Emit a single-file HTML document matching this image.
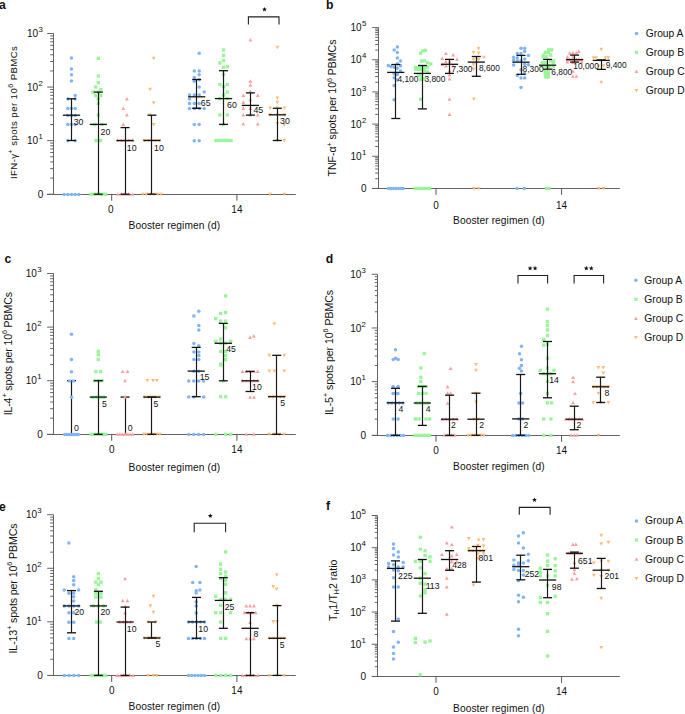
<!DOCTYPE html>
<html><head><meta charset="utf-8"><style>
html,body{margin:0;padding:0;background:#fff;}
svg{display:block;font-family:"Liberation Sans", sans-serif;}
text{fill:#111;}
</style></head><body>
<svg width="685" height="714" viewBox="0 0 685 714">
<text x="-0.90" y="8.60" font-size="12.2" text-anchor="start" font-weight="bold" >a</text>
<text x="326.00" y="8.50" font-size="12.2" text-anchor="start" font-weight="bold" >b</text>
<text x="4.40" y="262.80" font-size="12.2" text-anchor="start" font-weight="bold" >c</text>
<text x="325.80" y="262.70" font-size="12.2" text-anchor="start" font-weight="bold" >d</text>
<text x="-0.90" y="510.60" font-size="12.2" text-anchor="start" font-weight="bold" >e</text>
<text x="325.90" y="510.40" font-size="12.2" text-anchor="start" font-weight="bold" >f</text>
<line x1="53.50" y1="33.50" x2="53.50" y2="194.50" stroke="#636363" stroke-width="1.0"/>
<line x1="47.20" y1="194.20" x2="53.50" y2="194.20" stroke="#636363" stroke-width="1.0"/>
<line x1="50.20" y1="178.07" x2="53.50" y2="178.07" stroke="#636363" stroke-width="1.0"/>
<line x1="50.20" y1="168.64" x2="53.50" y2="168.64" stroke="#636363" stroke-width="1.0"/>
<line x1="50.20" y1="161.95" x2="53.50" y2="161.95" stroke="#636363" stroke-width="1.0"/>
<line x1="50.20" y1="156.76" x2="53.50" y2="156.76" stroke="#636363" stroke-width="1.0"/>
<line x1="50.20" y1="152.52" x2="53.50" y2="152.52" stroke="#636363" stroke-width="1.0"/>
<line x1="50.20" y1="148.93" x2="53.50" y2="148.93" stroke="#636363" stroke-width="1.0"/>
<line x1="50.20" y1="145.82" x2="53.50" y2="145.82" stroke="#636363" stroke-width="1.0"/>
<line x1="50.20" y1="143.08" x2="53.50" y2="143.08" stroke="#636363" stroke-width="1.0"/>
<line x1="47.20" y1="140.63" x2="53.50" y2="140.63" stroke="#636363" stroke-width="1.0"/>
<line x1="50.20" y1="124.51" x2="53.50" y2="124.51" stroke="#636363" stroke-width="1.0"/>
<line x1="50.20" y1="115.08" x2="53.50" y2="115.08" stroke="#636363" stroke-width="1.0"/>
<line x1="50.20" y1="108.38" x2="53.50" y2="108.38" stroke="#636363" stroke-width="1.0"/>
<line x1="50.20" y1="103.19" x2="53.50" y2="103.19" stroke="#636363" stroke-width="1.0"/>
<line x1="50.20" y1="98.95" x2="53.50" y2="98.95" stroke="#636363" stroke-width="1.0"/>
<line x1="50.20" y1="95.36" x2="53.50" y2="95.36" stroke="#636363" stroke-width="1.0"/>
<line x1="50.20" y1="92.26" x2="53.50" y2="92.26" stroke="#636363" stroke-width="1.0"/>
<line x1="50.20" y1="89.52" x2="53.50" y2="89.52" stroke="#636363" stroke-width="1.0"/>
<line x1="47.20" y1="87.07" x2="53.50" y2="87.07" stroke="#636363" stroke-width="1.0"/>
<line x1="50.20" y1="70.94" x2="53.50" y2="70.94" stroke="#636363" stroke-width="1.0"/>
<line x1="50.20" y1="61.51" x2="53.50" y2="61.51" stroke="#636363" stroke-width="1.0"/>
<line x1="50.20" y1="54.82" x2="53.50" y2="54.82" stroke="#636363" stroke-width="1.0"/>
<line x1="50.20" y1="49.63" x2="53.50" y2="49.63" stroke="#636363" stroke-width="1.0"/>
<line x1="50.20" y1="45.38" x2="53.50" y2="45.38" stroke="#636363" stroke-width="1.0"/>
<line x1="50.20" y1="41.80" x2="53.50" y2="41.80" stroke="#636363" stroke-width="1.0"/>
<line x1="50.20" y1="38.69" x2="53.50" y2="38.69" stroke="#636363" stroke-width="1.0"/>
<line x1="50.20" y1="35.95" x2="53.50" y2="35.95" stroke="#636363" stroke-width="1.0"/>
<line x1="47.20" y1="33.50" x2="53.50" y2="33.50" stroke="#636363" stroke-width="1.0"/>
<text x="38.20" y="144.23" font-size="10" text-anchor="end">10</text>
<text x="38.50" y="139.33" font-size="7.8">1</text>
<text x="38.20" y="90.67" font-size="10" text-anchor="end">10</text>
<text x="38.50" y="85.77" font-size="7.8">2</text>
<text x="38.20" y="37.10" font-size="10" text-anchor="end">10</text>
<text x="38.50" y="32.20" font-size="7.8">3</text>
<text x="43.30" y="197.80" font-size="10" text-anchor="end">0</text>
<line x1="47.20" y1="194.50" x2="295.80" y2="194.50" stroke="#636363" stroke-width="1.0"/>
<line x1="111.70" y1="194.50" x2="111.70" y2="200.70" stroke="#555" stroke-width="1.0"/>
<text x="110.70" y="213.20" font-size="10" text-anchor="middle" font-weight="normal" >0</text>
<line x1="236.90" y1="194.50" x2="236.90" y2="200.70" stroke="#555" stroke-width="1.0"/>
<text x="236.90" y="213.20" font-size="10" text-anchor="middle" font-weight="normal" >14</text>
<text x="174.30" y="228.90" font-size="10.2" text-anchor="middle" font-weight="normal" textLength="91.5" lengthAdjust="spacing">Booster regimen (d)</text>
<line x1="378.50" y1="27.60" x2="378.50" y2="188.50" stroke="#636363" stroke-width="1.0"/>
<line x1="372.20" y1="188.40" x2="378.50" y2="188.40" stroke="#636363" stroke-width="1.0"/>
<line x1="375.20" y1="178.72" x2="378.50" y2="178.72" stroke="#636363" stroke-width="1.0"/>
<line x1="375.20" y1="173.06" x2="378.50" y2="173.06" stroke="#636363" stroke-width="1.0"/>
<line x1="375.20" y1="169.04" x2="378.50" y2="169.04" stroke="#636363" stroke-width="1.0"/>
<line x1="375.20" y1="165.92" x2="378.50" y2="165.92" stroke="#636363" stroke-width="1.0"/>
<line x1="375.20" y1="163.37" x2="378.50" y2="163.37" stroke="#636363" stroke-width="1.0"/>
<line x1="375.20" y1="161.22" x2="378.50" y2="161.22" stroke="#636363" stroke-width="1.0"/>
<line x1="375.20" y1="159.36" x2="378.50" y2="159.36" stroke="#636363" stroke-width="1.0"/>
<line x1="375.20" y1="157.71" x2="378.50" y2="157.71" stroke="#636363" stroke-width="1.0"/>
<line x1="372.20" y1="156.24" x2="378.50" y2="156.24" stroke="#636363" stroke-width="1.0"/>
<line x1="375.20" y1="146.56" x2="378.50" y2="146.56" stroke="#636363" stroke-width="1.0"/>
<line x1="375.20" y1="140.90" x2="378.50" y2="140.90" stroke="#636363" stroke-width="1.0"/>
<line x1="375.20" y1="136.88" x2="378.50" y2="136.88" stroke="#636363" stroke-width="1.0"/>
<line x1="375.20" y1="133.76" x2="378.50" y2="133.76" stroke="#636363" stroke-width="1.0"/>
<line x1="375.20" y1="131.21" x2="378.50" y2="131.21" stroke="#636363" stroke-width="1.0"/>
<line x1="375.20" y1="129.06" x2="378.50" y2="129.06" stroke="#636363" stroke-width="1.0"/>
<line x1="375.20" y1="127.20" x2="378.50" y2="127.20" stroke="#636363" stroke-width="1.0"/>
<line x1="375.20" y1="125.55" x2="378.50" y2="125.55" stroke="#636363" stroke-width="1.0"/>
<line x1="372.20" y1="124.08" x2="378.50" y2="124.08" stroke="#636363" stroke-width="1.0"/>
<line x1="375.20" y1="114.40" x2="378.50" y2="114.40" stroke="#636363" stroke-width="1.0"/>
<line x1="375.20" y1="108.74" x2="378.50" y2="108.74" stroke="#636363" stroke-width="1.0"/>
<line x1="375.20" y1="104.72" x2="378.50" y2="104.72" stroke="#636363" stroke-width="1.0"/>
<line x1="375.20" y1="101.60" x2="378.50" y2="101.60" stroke="#636363" stroke-width="1.0"/>
<line x1="375.20" y1="99.05" x2="378.50" y2="99.05" stroke="#636363" stroke-width="1.0"/>
<line x1="375.20" y1="96.90" x2="378.50" y2="96.90" stroke="#636363" stroke-width="1.0"/>
<line x1="375.20" y1="95.04" x2="378.50" y2="95.04" stroke="#636363" stroke-width="1.0"/>
<line x1="375.20" y1="93.39" x2="378.50" y2="93.39" stroke="#636363" stroke-width="1.0"/>
<line x1="372.20" y1="91.92" x2="378.50" y2="91.92" stroke="#636363" stroke-width="1.0"/>
<line x1="375.20" y1="82.24" x2="378.50" y2="82.24" stroke="#636363" stroke-width="1.0"/>
<line x1="375.20" y1="76.58" x2="378.50" y2="76.58" stroke="#636363" stroke-width="1.0"/>
<line x1="375.20" y1="72.56" x2="378.50" y2="72.56" stroke="#636363" stroke-width="1.0"/>
<line x1="375.20" y1="69.44" x2="378.50" y2="69.44" stroke="#636363" stroke-width="1.0"/>
<line x1="375.20" y1="66.89" x2="378.50" y2="66.89" stroke="#636363" stroke-width="1.0"/>
<line x1="375.20" y1="64.74" x2="378.50" y2="64.74" stroke="#636363" stroke-width="1.0"/>
<line x1="375.20" y1="62.88" x2="378.50" y2="62.88" stroke="#636363" stroke-width="1.0"/>
<line x1="375.20" y1="61.23" x2="378.50" y2="61.23" stroke="#636363" stroke-width="1.0"/>
<line x1="372.20" y1="59.76" x2="378.50" y2="59.76" stroke="#636363" stroke-width="1.0"/>
<line x1="375.20" y1="50.08" x2="378.50" y2="50.08" stroke="#636363" stroke-width="1.0"/>
<line x1="375.20" y1="44.42" x2="378.50" y2="44.42" stroke="#636363" stroke-width="1.0"/>
<line x1="375.20" y1="40.40" x2="378.50" y2="40.40" stroke="#636363" stroke-width="1.0"/>
<line x1="375.20" y1="37.28" x2="378.50" y2="37.28" stroke="#636363" stroke-width="1.0"/>
<line x1="375.20" y1="34.73" x2="378.50" y2="34.73" stroke="#636363" stroke-width="1.0"/>
<line x1="375.20" y1="32.58" x2="378.50" y2="32.58" stroke="#636363" stroke-width="1.0"/>
<line x1="375.20" y1="30.72" x2="378.50" y2="30.72" stroke="#636363" stroke-width="1.0"/>
<line x1="375.20" y1="29.07" x2="378.50" y2="29.07" stroke="#636363" stroke-width="1.0"/>
<line x1="372.20" y1="27.60" x2="378.50" y2="27.60" stroke="#636363" stroke-width="1.0"/>
<text x="361.70" y="159.84" font-size="10" text-anchor="end">10</text>
<text x="362.00" y="154.94" font-size="7.8">1</text>
<text x="361.70" y="127.68" font-size="10" text-anchor="end">10</text>
<text x="362.00" y="122.78" font-size="7.8">2</text>
<text x="361.70" y="95.52" font-size="10" text-anchor="end">10</text>
<text x="362.00" y="90.62" font-size="7.8">3</text>
<text x="361.70" y="63.36" font-size="10" text-anchor="end">10</text>
<text x="362.00" y="58.46" font-size="7.8">4</text>
<text x="361.70" y="31.20" font-size="10" text-anchor="end">10</text>
<text x="362.00" y="26.30" font-size="7.8">5</text>
<text x="366.50" y="192.00" font-size="10" text-anchor="end">0</text>
<line x1="372.20" y1="188.50" x2="619.80" y2="188.50" stroke="#636363" stroke-width="1.0"/>
<line x1="436.00" y1="188.50" x2="436.00" y2="194.90" stroke="#555" stroke-width="1.0"/>
<text x="436.00" y="208.80" font-size="10" text-anchor="middle" font-weight="normal" >0</text>
<line x1="561.60" y1="188.50" x2="561.60" y2="194.90" stroke="#555" stroke-width="1.0"/>
<text x="561.60" y="208.80" font-size="10" text-anchor="middle" font-weight="normal" >14</text>
<text x="498.80" y="224.10" font-size="10.2" text-anchor="middle" font-weight="normal" textLength="91.5" lengthAdjust="spacing">Booster regimen (d)</text>
<line x1="53.50" y1="273.50" x2="53.50" y2="434.50" stroke="#636363" stroke-width="1.0"/>
<line x1="47.10" y1="434.30" x2="53.50" y2="434.30" stroke="#636363" stroke-width="1.0"/>
<line x1="50.10" y1="418.16" x2="53.50" y2="418.16" stroke="#636363" stroke-width="1.0"/>
<line x1="50.10" y1="408.73" x2="53.50" y2="408.73" stroke="#636363" stroke-width="1.0"/>
<line x1="50.10" y1="402.03" x2="53.50" y2="402.03" stroke="#636363" stroke-width="1.0"/>
<line x1="50.10" y1="396.84" x2="53.50" y2="396.84" stroke="#636363" stroke-width="1.0"/>
<line x1="50.10" y1="392.59" x2="53.50" y2="392.59" stroke="#636363" stroke-width="1.0"/>
<line x1="50.10" y1="389.00" x2="53.50" y2="389.00" stroke="#636363" stroke-width="1.0"/>
<line x1="50.10" y1="385.89" x2="53.50" y2="385.89" stroke="#636363" stroke-width="1.0"/>
<line x1="50.10" y1="383.15" x2="53.50" y2="383.15" stroke="#636363" stroke-width="1.0"/>
<line x1="47.10" y1="380.70" x2="53.50" y2="380.70" stroke="#636363" stroke-width="1.0"/>
<line x1="50.10" y1="364.56" x2="53.50" y2="364.56" stroke="#636363" stroke-width="1.0"/>
<line x1="50.10" y1="355.13" x2="53.50" y2="355.13" stroke="#636363" stroke-width="1.0"/>
<line x1="50.10" y1="348.43" x2="53.50" y2="348.43" stroke="#636363" stroke-width="1.0"/>
<line x1="50.10" y1="343.24" x2="53.50" y2="343.24" stroke="#636363" stroke-width="1.0"/>
<line x1="50.10" y1="338.99" x2="53.50" y2="338.99" stroke="#636363" stroke-width="1.0"/>
<line x1="50.10" y1="335.40" x2="53.50" y2="335.40" stroke="#636363" stroke-width="1.0"/>
<line x1="50.10" y1="332.29" x2="53.50" y2="332.29" stroke="#636363" stroke-width="1.0"/>
<line x1="50.10" y1="329.55" x2="53.50" y2="329.55" stroke="#636363" stroke-width="1.0"/>
<line x1="47.10" y1="327.10" x2="53.50" y2="327.10" stroke="#636363" stroke-width="1.0"/>
<line x1="50.10" y1="310.96" x2="53.50" y2="310.96" stroke="#636363" stroke-width="1.0"/>
<line x1="50.10" y1="301.53" x2="53.50" y2="301.53" stroke="#636363" stroke-width="1.0"/>
<line x1="50.10" y1="294.83" x2="53.50" y2="294.83" stroke="#636363" stroke-width="1.0"/>
<line x1="50.10" y1="289.64" x2="53.50" y2="289.64" stroke="#636363" stroke-width="1.0"/>
<line x1="50.10" y1="285.39" x2="53.50" y2="285.39" stroke="#636363" stroke-width="1.0"/>
<line x1="50.10" y1="281.80" x2="53.50" y2="281.80" stroke="#636363" stroke-width="1.0"/>
<line x1="50.10" y1="278.69" x2="53.50" y2="278.69" stroke="#636363" stroke-width="1.0"/>
<line x1="50.10" y1="275.95" x2="53.50" y2="275.95" stroke="#636363" stroke-width="1.0"/>
<line x1="47.10" y1="273.50" x2="53.50" y2="273.50" stroke="#636363" stroke-width="1.0"/>
<text x="36.90" y="384.30" font-size="10" text-anchor="end">10</text>
<text x="37.20" y="379.40" font-size="7.8">1</text>
<text x="36.90" y="330.70" font-size="10" text-anchor="end">10</text>
<text x="37.20" y="325.80" font-size="7.8">2</text>
<text x="36.90" y="277.10" font-size="10" text-anchor="end">10</text>
<text x="37.20" y="272.20" font-size="7.8">3</text>
<text x="42.70" y="437.90" font-size="10" text-anchor="end">0</text>
<line x1="47.10" y1="434.50" x2="295.80" y2="434.50" stroke="#636363" stroke-width="1.0"/>
<line x1="111.70" y1="434.50" x2="111.70" y2="440.80" stroke="#555" stroke-width="1.0"/>
<text x="111.70" y="453.30" font-size="10" text-anchor="middle" font-weight="normal" >0</text>
<line x1="236.90" y1="434.50" x2="236.90" y2="440.80" stroke="#555" stroke-width="1.0"/>
<text x="236.90" y="453.30" font-size="10" text-anchor="middle" font-weight="normal" >14</text>
<text x="174.30" y="470.80" font-size="10.2" text-anchor="middle" font-weight="normal" textLength="91.5" lengthAdjust="spacing">Booster regimen (d)</text>
<line x1="377.50" y1="274.30" x2="377.50" y2="435.50" stroke="#636363" stroke-width="1.0"/>
<line x1="371.80" y1="435.30" x2="377.50" y2="435.30" stroke="#636363" stroke-width="1.0"/>
<line x1="374.80" y1="419.14" x2="377.50" y2="419.14" stroke="#636363" stroke-width="1.0"/>
<line x1="374.80" y1="409.69" x2="377.50" y2="409.69" stroke="#636363" stroke-width="1.0"/>
<line x1="374.80" y1="402.99" x2="377.50" y2="402.99" stroke="#636363" stroke-width="1.0"/>
<line x1="374.80" y1="397.79" x2="377.50" y2="397.79" stroke="#636363" stroke-width="1.0"/>
<line x1="374.80" y1="393.54" x2="377.50" y2="393.54" stroke="#636363" stroke-width="1.0"/>
<line x1="374.80" y1="389.95" x2="377.50" y2="389.95" stroke="#636363" stroke-width="1.0"/>
<line x1="374.80" y1="386.83" x2="377.50" y2="386.83" stroke="#636363" stroke-width="1.0"/>
<line x1="374.80" y1="384.09" x2="377.50" y2="384.09" stroke="#636363" stroke-width="1.0"/>
<line x1="371.80" y1="381.63" x2="377.50" y2="381.63" stroke="#636363" stroke-width="1.0"/>
<line x1="374.80" y1="365.48" x2="377.50" y2="365.48" stroke="#636363" stroke-width="1.0"/>
<line x1="374.80" y1="356.03" x2="377.50" y2="356.03" stroke="#636363" stroke-width="1.0"/>
<line x1="374.80" y1="349.32" x2="377.50" y2="349.32" stroke="#636363" stroke-width="1.0"/>
<line x1="374.80" y1="344.12" x2="377.50" y2="344.12" stroke="#636363" stroke-width="1.0"/>
<line x1="374.80" y1="339.87" x2="377.50" y2="339.87" stroke="#636363" stroke-width="1.0"/>
<line x1="374.80" y1="336.28" x2="377.50" y2="336.28" stroke="#636363" stroke-width="1.0"/>
<line x1="374.80" y1="333.17" x2="377.50" y2="333.17" stroke="#636363" stroke-width="1.0"/>
<line x1="374.80" y1="330.42" x2="377.50" y2="330.42" stroke="#636363" stroke-width="1.0"/>
<line x1="371.80" y1="327.97" x2="377.50" y2="327.97" stroke="#636363" stroke-width="1.0"/>
<line x1="374.80" y1="311.81" x2="377.50" y2="311.81" stroke="#636363" stroke-width="1.0"/>
<line x1="374.80" y1="302.36" x2="377.50" y2="302.36" stroke="#636363" stroke-width="1.0"/>
<line x1="374.80" y1="295.66" x2="377.50" y2="295.66" stroke="#636363" stroke-width="1.0"/>
<line x1="374.80" y1="290.46" x2="377.50" y2="290.46" stroke="#636363" stroke-width="1.0"/>
<line x1="374.80" y1="286.21" x2="377.50" y2="286.21" stroke="#636363" stroke-width="1.0"/>
<line x1="374.80" y1="282.61" x2="377.50" y2="282.61" stroke="#636363" stroke-width="1.0"/>
<line x1="374.80" y1="279.50" x2="377.50" y2="279.50" stroke="#636363" stroke-width="1.0"/>
<line x1="374.80" y1="276.76" x2="377.50" y2="276.76" stroke="#636363" stroke-width="1.0"/>
<line x1="371.80" y1="274.30" x2="377.50" y2="274.30" stroke="#636363" stroke-width="1.0"/>
<text x="361.30" y="385.23" font-size="10" text-anchor="end">10</text>
<text x="361.60" y="380.33" font-size="7.8">1</text>
<text x="361.30" y="331.57" font-size="10" text-anchor="end">10</text>
<text x="361.60" y="326.67" font-size="7.8">2</text>
<text x="361.30" y="277.90" font-size="10" text-anchor="end">10</text>
<text x="361.60" y="273.00" font-size="7.8">3</text>
<text x="366.10" y="438.90" font-size="10" text-anchor="end">0</text>
<line x1="371.80" y1="435.50" x2="619.80" y2="435.50" stroke="#636363" stroke-width="1.0"/>
<line x1="436.00" y1="435.50" x2="436.00" y2="441.80" stroke="#555" stroke-width="1.0"/>
<text x="436.00" y="454.30" font-size="10" text-anchor="middle" font-weight="normal" >0</text>
<line x1="561.60" y1="435.50" x2="561.60" y2="441.80" stroke="#555" stroke-width="1.0"/>
<text x="561.60" y="454.30" font-size="10" text-anchor="middle" font-weight="normal" >14</text>
<text x="498.80" y="470.00" font-size="10.2" text-anchor="middle" font-weight="normal" textLength="91.5" lengthAdjust="spacing">Booster regimen (d)</text>
<line x1="53.50" y1="514.70" x2="53.50" y2="675.50" stroke="#636363" stroke-width="1.0"/>
<line x1="47.20" y1="675.40" x2="53.50" y2="675.40" stroke="#636363" stroke-width="1.0"/>
<line x1="50.20" y1="659.27" x2="53.50" y2="659.27" stroke="#636363" stroke-width="1.0"/>
<line x1="50.20" y1="649.84" x2="53.50" y2="649.84" stroke="#636363" stroke-width="1.0"/>
<line x1="50.20" y1="643.15" x2="53.50" y2="643.15" stroke="#636363" stroke-width="1.0"/>
<line x1="50.20" y1="637.96" x2="53.50" y2="637.96" stroke="#636363" stroke-width="1.0"/>
<line x1="50.20" y1="633.72" x2="53.50" y2="633.72" stroke="#636363" stroke-width="1.0"/>
<line x1="50.20" y1="630.13" x2="53.50" y2="630.13" stroke="#636363" stroke-width="1.0"/>
<line x1="50.20" y1="627.02" x2="53.50" y2="627.02" stroke="#636363" stroke-width="1.0"/>
<line x1="50.20" y1="624.28" x2="53.50" y2="624.28" stroke="#636363" stroke-width="1.0"/>
<line x1="47.20" y1="621.83" x2="53.50" y2="621.83" stroke="#636363" stroke-width="1.0"/>
<line x1="50.20" y1="605.71" x2="53.50" y2="605.71" stroke="#636363" stroke-width="1.0"/>
<line x1="50.20" y1="596.28" x2="53.50" y2="596.28" stroke="#636363" stroke-width="1.0"/>
<line x1="50.20" y1="589.58" x2="53.50" y2="589.58" stroke="#636363" stroke-width="1.0"/>
<line x1="50.20" y1="584.39" x2="53.50" y2="584.39" stroke="#636363" stroke-width="1.0"/>
<line x1="50.20" y1="580.15" x2="53.50" y2="580.15" stroke="#636363" stroke-width="1.0"/>
<line x1="50.20" y1="576.56" x2="53.50" y2="576.56" stroke="#636363" stroke-width="1.0"/>
<line x1="50.20" y1="573.46" x2="53.50" y2="573.46" stroke="#636363" stroke-width="1.0"/>
<line x1="50.20" y1="570.72" x2="53.50" y2="570.72" stroke="#636363" stroke-width="1.0"/>
<line x1="47.20" y1="568.27" x2="53.50" y2="568.27" stroke="#636363" stroke-width="1.0"/>
<line x1="50.20" y1="552.14" x2="53.50" y2="552.14" stroke="#636363" stroke-width="1.0"/>
<line x1="50.20" y1="542.71" x2="53.50" y2="542.71" stroke="#636363" stroke-width="1.0"/>
<line x1="50.20" y1="536.02" x2="53.50" y2="536.02" stroke="#636363" stroke-width="1.0"/>
<line x1="50.20" y1="530.83" x2="53.50" y2="530.83" stroke="#636363" stroke-width="1.0"/>
<line x1="50.20" y1="526.58" x2="53.50" y2="526.58" stroke="#636363" stroke-width="1.0"/>
<line x1="50.20" y1="523.00" x2="53.50" y2="523.00" stroke="#636363" stroke-width="1.0"/>
<line x1="50.20" y1="519.89" x2="53.50" y2="519.89" stroke="#636363" stroke-width="1.0"/>
<line x1="50.20" y1="517.15" x2="53.50" y2="517.15" stroke="#636363" stroke-width="1.0"/>
<line x1="47.20" y1="514.70" x2="53.50" y2="514.70" stroke="#636363" stroke-width="1.0"/>
<text x="37.00" y="625.43" font-size="10" text-anchor="end">10</text>
<text x="37.30" y="620.53" font-size="7.8">1</text>
<text x="37.00" y="571.87" font-size="10" text-anchor="end">10</text>
<text x="37.30" y="566.97" font-size="7.8">2</text>
<text x="37.00" y="518.30" font-size="10" text-anchor="end">10</text>
<text x="37.30" y="513.40" font-size="7.8">3</text>
<text x="42.80" y="679.00" font-size="10" text-anchor="end">0</text>
<line x1="47.20" y1="675.50" x2="295.80" y2="675.50" stroke="#636363" stroke-width="1.0"/>
<line x1="111.70" y1="675.50" x2="111.70" y2="681.90" stroke="#555" stroke-width="1.0"/>
<text x="111.70" y="694.40" font-size="10" text-anchor="middle" font-weight="normal" >0</text>
<line x1="236.90" y1="675.50" x2="236.90" y2="681.90" stroke="#555" stroke-width="1.0"/>
<text x="236.90" y="694.40" font-size="10" text-anchor="middle" font-weight="normal" >14</text>
<text x="174.30" y="710.20" font-size="10.2" text-anchor="middle" font-weight="normal" textLength="91.5" lengthAdjust="spacing">Booster regimen (d)</text>
<line x1="377.50" y1="515.50" x2="377.50" y2="676.50" stroke="#636363" stroke-width="1.0"/>
<line x1="371.80" y1="676.40" x2="377.50" y2="676.40" stroke="#636363" stroke-width="1.0"/>
<line x1="374.80" y1="666.71" x2="377.50" y2="666.71" stroke="#636363" stroke-width="1.0"/>
<line x1="374.80" y1="661.05" x2="377.50" y2="661.05" stroke="#636363" stroke-width="1.0"/>
<line x1="374.80" y1="657.03" x2="377.50" y2="657.03" stroke="#636363" stroke-width="1.0"/>
<line x1="374.80" y1="653.91" x2="377.50" y2="653.91" stroke="#636363" stroke-width="1.0"/>
<line x1="374.80" y1="651.36" x2="377.50" y2="651.36" stroke="#636363" stroke-width="1.0"/>
<line x1="374.80" y1="649.20" x2="377.50" y2="649.20" stroke="#636363" stroke-width="1.0"/>
<line x1="374.80" y1="647.34" x2="377.50" y2="647.34" stroke="#636363" stroke-width="1.0"/>
<line x1="374.80" y1="645.69" x2="377.50" y2="645.69" stroke="#636363" stroke-width="1.0"/>
<line x1="371.80" y1="644.22" x2="377.50" y2="644.22" stroke="#636363" stroke-width="1.0"/>
<line x1="374.80" y1="634.53" x2="377.50" y2="634.53" stroke="#636363" stroke-width="1.0"/>
<line x1="374.80" y1="628.87" x2="377.50" y2="628.87" stroke="#636363" stroke-width="1.0"/>
<line x1="374.80" y1="624.85" x2="377.50" y2="624.85" stroke="#636363" stroke-width="1.0"/>
<line x1="374.80" y1="621.73" x2="377.50" y2="621.73" stroke="#636363" stroke-width="1.0"/>
<line x1="374.80" y1="619.18" x2="377.50" y2="619.18" stroke="#636363" stroke-width="1.0"/>
<line x1="374.80" y1="617.02" x2="377.50" y2="617.02" stroke="#636363" stroke-width="1.0"/>
<line x1="374.80" y1="615.16" x2="377.50" y2="615.16" stroke="#636363" stroke-width="1.0"/>
<line x1="374.80" y1="613.51" x2="377.50" y2="613.51" stroke="#636363" stroke-width="1.0"/>
<line x1="371.80" y1="612.04" x2="377.50" y2="612.04" stroke="#636363" stroke-width="1.0"/>
<line x1="374.80" y1="602.35" x2="377.50" y2="602.35" stroke="#636363" stroke-width="1.0"/>
<line x1="374.80" y1="596.69" x2="377.50" y2="596.69" stroke="#636363" stroke-width="1.0"/>
<line x1="374.80" y1="592.67" x2="377.50" y2="592.67" stroke="#636363" stroke-width="1.0"/>
<line x1="374.80" y1="589.55" x2="377.50" y2="589.55" stroke="#636363" stroke-width="1.0"/>
<line x1="374.80" y1="587.00" x2="377.50" y2="587.00" stroke="#636363" stroke-width="1.0"/>
<line x1="374.80" y1="584.84" x2="377.50" y2="584.84" stroke="#636363" stroke-width="1.0"/>
<line x1="374.80" y1="582.98" x2="377.50" y2="582.98" stroke="#636363" stroke-width="1.0"/>
<line x1="374.80" y1="581.33" x2="377.50" y2="581.33" stroke="#636363" stroke-width="1.0"/>
<line x1="371.80" y1="579.86" x2="377.50" y2="579.86" stroke="#636363" stroke-width="1.0"/>
<line x1="374.80" y1="570.17" x2="377.50" y2="570.17" stroke="#636363" stroke-width="1.0"/>
<line x1="374.80" y1="564.51" x2="377.50" y2="564.51" stroke="#636363" stroke-width="1.0"/>
<line x1="374.80" y1="560.49" x2="377.50" y2="560.49" stroke="#636363" stroke-width="1.0"/>
<line x1="374.80" y1="557.37" x2="377.50" y2="557.37" stroke="#636363" stroke-width="1.0"/>
<line x1="374.80" y1="554.82" x2="377.50" y2="554.82" stroke="#636363" stroke-width="1.0"/>
<line x1="374.80" y1="552.66" x2="377.50" y2="552.66" stroke="#636363" stroke-width="1.0"/>
<line x1="374.80" y1="550.80" x2="377.50" y2="550.80" stroke="#636363" stroke-width="1.0"/>
<line x1="374.80" y1="549.15" x2="377.50" y2="549.15" stroke="#636363" stroke-width="1.0"/>
<line x1="371.80" y1="547.68" x2="377.50" y2="547.68" stroke="#636363" stroke-width="1.0"/>
<line x1="374.80" y1="537.99" x2="377.50" y2="537.99" stroke="#636363" stroke-width="1.0"/>
<line x1="374.80" y1="532.33" x2="377.50" y2="532.33" stroke="#636363" stroke-width="1.0"/>
<line x1="374.80" y1="528.31" x2="377.50" y2="528.31" stroke="#636363" stroke-width="1.0"/>
<line x1="374.80" y1="525.19" x2="377.50" y2="525.19" stroke="#636363" stroke-width="1.0"/>
<line x1="374.80" y1="522.64" x2="377.50" y2="522.64" stroke="#636363" stroke-width="1.0"/>
<line x1="374.80" y1="520.48" x2="377.50" y2="520.48" stroke="#636363" stroke-width="1.0"/>
<line x1="374.80" y1="518.62" x2="377.50" y2="518.62" stroke="#636363" stroke-width="1.0"/>
<line x1="374.80" y1="516.97" x2="377.50" y2="516.97" stroke="#636363" stroke-width="1.0"/>
<line x1="371.80" y1="515.50" x2="377.50" y2="515.50" stroke="#636363" stroke-width="1.0"/>
<text x="361.30" y="647.82" font-size="10" text-anchor="end">10</text>
<text x="361.60" y="642.92" font-size="7.8">1</text>
<text x="361.30" y="615.64" font-size="10" text-anchor="end">10</text>
<text x="361.60" y="610.74" font-size="7.8">2</text>
<text x="361.30" y="583.46" font-size="10" text-anchor="end">10</text>
<text x="361.60" y="578.56" font-size="7.8">3</text>
<text x="361.30" y="551.28" font-size="10" text-anchor="end">10</text>
<text x="361.60" y="546.38" font-size="7.8">4</text>
<text x="361.30" y="519.10" font-size="10" text-anchor="end">10</text>
<text x="361.60" y="514.20" font-size="7.8">5</text>
<text x="366.10" y="680.00" font-size="10" text-anchor="end">0</text>
<line x1="371.80" y1="676.50" x2="619.80" y2="676.50" stroke="#636363" stroke-width="1.0"/>
<line x1="436.00" y1="676.50" x2="436.00" y2="682.90" stroke="#555" stroke-width="1.0"/>
<text x="436.00" y="695.40" font-size="10" text-anchor="middle" font-weight="normal" >0</text>
<line x1="561.60" y1="676.50" x2="561.60" y2="682.90" stroke="#555" stroke-width="1.0"/>
<text x="561.60" y="695.40" font-size="10" text-anchor="middle" font-weight="normal" >14</text>
<text x="498.80" y="711.60" font-size="10.2" text-anchor="middle" font-weight="normal" textLength="91.5" lengthAdjust="spacing">Booster regimen (d)</text>
<text transform="translate(17.10,112.60) rotate(-90)" font-size="9.6" text-anchor="middle" textLength="133" lengthAdjust="spacing">IFN-γ<tspan dy="-4.6" font-size="7.2">+</tspan><tspan dy="4.6"> spots per 10</tspan><tspan dy="-4.6" font-size="7.2">6</tspan><tspan dy="4.6"> PBMCs</tspan></text>
<text transform="translate(336.10,108.00) rotate(-90)" font-size="10.6" text-anchor="middle" textLength="137" lengthAdjust="spacing">TNF-α<tspan dy="-4.6" font-size="7.2">+</tspan><tspan dy="4.6"> spots per 10</tspan><tspan dy="-4.6" font-size="7.2">6</tspan><tspan dy="4.6"> PBMCs</tspan></text>
<text transform="translate(11.80,353.70) rotate(-90)" font-size="10.6" text-anchor="middle" textLength="123.3" lengthAdjust="spacing">IL-4<tspan dy="-4.6" font-size="7.2">+</tspan><tspan dy="4.6"> spots per 10</tspan><tspan dy="-4.6" font-size="7.2">6</tspan><tspan dy="4.6"> PBMCs</tspan></text>
<text transform="translate(333.00,352.50) rotate(-90)" font-size="10.6" text-anchor="middle" textLength="125.2" lengthAdjust="spacing">IL-5<tspan dy="-4.6" font-size="7.2">+</tspan><tspan dy="4.6"> spots per 10</tspan><tspan dy="-4.6" font-size="7.2">6</tspan><tspan dy="4.6"> PBMCs</tspan></text>
<text transform="translate(16.80,588.50) rotate(-90)" font-size="10.6" text-anchor="middle" textLength="130" lengthAdjust="spacing">IL-13<tspan dy="-4.6" font-size="7.2">+</tspan><tspan dy="4.6"> spots per 10</tspan><tspan dy="-4.6" font-size="7.2">6</tspan><tspan dy="4.6"> PBMCs</tspan></text>
<text transform="translate(336.80,590.30) rotate(-90)" font-size="10.6" text-anchor="middle" textLength="61.4" lengthAdjust="spacing">T<tspan dy="2.5" font-size="7">H</tspan><tspan dy="-2.5">1/T</tspan><tspan dy="2.5" font-size="7">H</tspan><tspan dy="-2.5">2 ratio</tspan></text>
<circle cx="636.50" cy="33.40" r="1.75" fill="#7fb4f5"/>
<text x="645.70" y="36.90" font-size="10.3" text-anchor="start" font-weight="normal" >Group A</text>
<rect x="634.85" y="50.73" width="3.3" height="3.3" fill="#98f598"/>
<text x="645.70" y="56.03" font-size="10.3" text-anchor="start" font-weight="normal" >Group B</text>
<path d="M636.50,69.46L638.40,72.96L634.60,72.96Z" fill="#ff9e9e"/>
<text x="645.70" y="75.16" font-size="10.3" text-anchor="start" font-weight="normal" >Group C</text>
<path d="M636.50,92.59L638.40,89.09L634.60,89.09Z" fill="#ffbb78"/>
<text x="645.70" y="94.29" font-size="10.3" text-anchor="start" font-weight="normal" >Group D</text>
<circle cx="635.90" cy="280.30" r="1.75" fill="#7fb4f5"/>
<text x="644.30" y="283.80" font-size="10.3" text-anchor="start" font-weight="normal" >Group A</text>
<rect x="634.25" y="297.67" width="3.3" height="3.3" fill="#98f598"/>
<text x="644.30" y="302.97" font-size="10.3" text-anchor="start" font-weight="normal" >Group B</text>
<path d="M635.90,316.44L637.80,319.94L634.00,319.94Z" fill="#ff9e9e"/>
<text x="644.30" y="322.14" font-size="10.3" text-anchor="start" font-weight="normal" >Group C</text>
<path d="M635.90,339.61L637.80,336.11L634.00,336.11Z" fill="#ffbb78"/>
<text x="644.30" y="341.31" font-size="10.3" text-anchor="start" font-weight="normal" >Group D</text>
<circle cx="636.50" cy="520.90" r="1.75" fill="#7fb4f5"/>
<text x="645.00" y="524.40" font-size="10.3" text-anchor="start" font-weight="normal" >Group A</text>
<rect x="634.85" y="538.33" width="3.3" height="3.3" fill="#98f598"/>
<text x="645.00" y="543.63" font-size="10.3" text-anchor="start" font-weight="normal" >Group B</text>
<path d="M636.50,557.16L638.40,560.66L634.60,560.66Z" fill="#ff9e9e"/>
<text x="645.00" y="562.86" font-size="10.3" text-anchor="start" font-weight="normal" >Group C</text>
<path d="M636.50,580.39L638.40,576.89L634.60,576.89Z" fill="#ffbb78"/>
<text x="645.00" y="582.09" font-size="10.3" text-anchor="start" font-weight="normal" >Group D</text>
<circle cx="71.50" cy="58.00" r="1.75" fill="#7fb4f5"/>
<circle cx="71.50" cy="68.90" r="1.75" fill="#7fb4f5"/>
<circle cx="71.50" cy="74.70" r="1.75" fill="#7fb4f5"/>
<circle cx="71.50" cy="81.10" r="1.75" fill="#7fb4f5"/>
<circle cx="75.20" cy="95.40" r="1.75" fill="#7fb4f5"/>
<circle cx="67.85" cy="99.00" r="1.75" fill="#7fb4f5"/>
<circle cx="75.15" cy="99.00" r="1.75" fill="#7fb4f5"/>
<circle cx="67.80" cy="108.50" r="1.75" fill="#7fb4f5"/>
<circle cx="71.50" cy="108.50" r="1.75" fill="#7fb4f5"/>
<circle cx="75.20" cy="108.50" r="1.75" fill="#7fb4f5"/>
<circle cx="67.80" cy="115.40" r="1.75" fill="#7fb4f5"/>
<circle cx="71.50" cy="115.40" r="1.75" fill="#7fb4f5"/>
<circle cx="75.20" cy="115.40" r="1.75" fill="#7fb4f5"/>
<circle cx="67.80" cy="124.60" r="1.75" fill="#7fb4f5"/>
<circle cx="71.50" cy="124.60" r="1.75" fill="#7fb4f5"/>
<circle cx="75.20" cy="124.60" r="1.75" fill="#7fb4f5"/>
<circle cx="67.85" cy="140.70" r="1.75" fill="#7fb4f5"/>
<circle cx="75.15" cy="140.70" r="1.75" fill="#7fb4f5"/>
<circle cx="64.10" cy="194.40" r="1.75" fill="#7fb4f5"/>
<circle cx="67.80" cy="194.40" r="1.75" fill="#7fb4f5"/>
<circle cx="71.50" cy="194.40" r="1.75" fill="#7fb4f5"/>
<circle cx="75.20" cy="194.40" r="1.75" fill="#7fb4f5"/>
<circle cx="78.90" cy="194.40" r="1.75" fill="#7fb4f5"/>
<line x1="71.50" y1="98.80" x2="71.50" y2="140.50" stroke="#1a1a1a" stroke-width="1.2"/>
<line x1="67.00" y1="98.80" x2="76.00" y2="98.80" stroke="#111" stroke-width="1.3"/>
<line x1="67.00" y1="140.50" x2="76.00" y2="140.50" stroke="#111" stroke-width="1.3"/>
<line x1="62.90" y1="115.20" x2="80.10" y2="115.20" stroke="#111" stroke-width="1.3"/>
<rect x="96.65" y="56.70" width="3.3" height="3.3" fill="#98f598"/>
<rect x="96.65" y="74.40" width="3.3" height="3.3" fill="#98f598"/>
<rect x="96.65" y="81.00" width="3.3" height="3.3" fill="#98f598"/>
<rect x="93.95" y="85.30" width="3.3" height="3.3" fill="#98f598"/>
<rect x="99.25" y="88.00" width="3.3" height="3.3" fill="#98f598"/>
<rect x="91.25" y="90.50" width="3.3" height="3.3" fill="#98f598"/>
<rect x="96.65" y="90.50" width="3.3" height="3.3" fill="#98f598"/>
<rect x="93.95" y="93.90" width="3.3" height="3.3" fill="#98f598"/>
<rect x="99.25" y="93.90" width="3.3" height="3.3" fill="#98f598"/>
<rect x="96.65" y="97.40" width="3.3" height="3.3" fill="#98f598"/>
<rect x="96.65" y="101.70" width="3.3" height="3.3" fill="#98f598"/>
<rect x="96.65" y="113.40" width="3.3" height="3.3" fill="#98f598"/>
<rect x="93.00" y="122.80" width="3.3" height="3.3" fill="#98f598"/>
<rect x="100.30" y="122.80" width="3.3" height="3.3" fill="#98f598"/>
<rect x="94.35" y="138.90" width="3.3" height="3.3" fill="#98f598"/>
<rect x="98.95" y="138.90" width="3.3" height="3.3" fill="#98f598"/>
<rect x="89.40" y="192.60" width="3.3" height="3.3" fill="#98f598"/>
<rect x="92.30" y="192.60" width="3.3" height="3.3" fill="#98f598"/>
<rect x="95.20" y="192.60" width="3.3" height="3.3" fill="#98f598"/>
<rect x="98.10" y="192.60" width="3.3" height="3.3" fill="#98f598"/>
<rect x="101.00" y="192.60" width="3.3" height="3.3" fill="#98f598"/>
<rect x="103.90" y="192.60" width="3.3" height="3.3" fill="#98f598"/>
<line x1="98.50" y1="92.10" x2="98.50" y2="194.20" stroke="#1a1a1a" stroke-width="1.2"/>
<line x1="93.80" y1="92.10" x2="102.80" y2="92.10" stroke="#111" stroke-width="1.3"/>
<line x1="93.80" y1="194.20" x2="102.80" y2="194.20" stroke="#111" stroke-width="1.3"/>
<line x1="89.70" y1="124.40" x2="106.90" y2="124.40" stroke="#111" stroke-width="1.3"/>
<path d="M126.90,96.90L128.80,100.40L125.00,100.40Z" fill="#ff9e9e"/>
<path d="M123.30,106.50L125.20,110.00L121.40,110.00Z" fill="#ff9e9e"/>
<path d="M126.90,113.00L128.80,116.50L125.00,116.50Z" fill="#ff9e9e"/>
<path d="M123.30,122.40L125.20,125.90L121.40,125.90Z" fill="#ff9e9e"/>
<path d="M117.70,138.50L119.60,142.00L115.80,142.00Z" fill="#ff9e9e"/>
<path d="M121.40,138.50L123.30,142.00L119.50,142.00Z" fill="#ff9e9e"/>
<path d="M125.10,138.50L127.00,142.00L123.20,142.00Z" fill="#ff9e9e"/>
<path d="M128.80,138.50L130.70,142.00L126.90,142.00Z" fill="#ff9e9e"/>
<path d="M132.50,138.50L134.40,142.00L130.60,142.00Z" fill="#ff9e9e"/>
<path d="M117.70,192.20L119.60,195.70L115.80,195.70Z" fill="#ff9e9e"/>
<path d="M121.40,192.20L123.30,195.70L119.50,195.70Z" fill="#ff9e9e"/>
<path d="M125.10,192.20L127.00,195.70L123.20,195.70Z" fill="#ff9e9e"/>
<path d="M128.80,192.20L130.70,195.70L126.90,195.70Z" fill="#ff9e9e"/>
<path d="M132.50,192.20L134.40,195.70L130.60,195.70Z" fill="#ff9e9e"/>
<line x1="125.50" y1="127.60" x2="125.50" y2="194.20" stroke="#1a1a1a" stroke-width="1.2"/>
<line x1="120.60" y1="127.60" x2="129.60" y2="127.60" stroke="#111" stroke-width="1.3"/>
<line x1="120.60" y1="194.20" x2="129.60" y2="194.20" stroke="#111" stroke-width="1.3"/>
<line x1="116.50" y1="140.50" x2="133.70" y2="140.50" stroke="#111" stroke-width="1.3"/>
<path d="M153.70,60.30L155.60,56.80L151.80,56.80Z" fill="#ffbb78"/>
<path d="M150.10,91.30L152.00,87.80L148.20,87.80Z" fill="#ffbb78"/>
<path d="M153.70,104.70L155.60,101.20L151.80,101.20Z" fill="#ffbb78"/>
<path d="M150.10,117.00L152.00,113.50L148.20,113.50Z" fill="#ffbb78"/>
<path d="M153.70,126.40L155.60,122.90L151.80,122.90Z" fill="#ffbb78"/>
<path d="M144.50,142.50L146.40,139.00L142.60,139.00Z" fill="#ffbb78"/>
<path d="M148.20,142.50L150.10,139.00L146.30,139.00Z" fill="#ffbb78"/>
<path d="M151.90,142.50L153.80,139.00L150.00,139.00Z" fill="#ffbb78"/>
<path d="M155.60,142.50L157.50,139.00L153.70,139.00Z" fill="#ffbb78"/>
<path d="M159.30,142.50L161.20,139.00L157.40,139.00Z" fill="#ffbb78"/>
<path d="M142.65,196.20L144.55,192.70L140.75,192.70Z" fill="#ffbb78"/>
<path d="M146.35,196.20L148.25,192.70L144.45,192.70Z" fill="#ffbb78"/>
<path d="M150.05,196.20L151.95,192.70L148.15,192.70Z" fill="#ffbb78"/>
<path d="M153.75,196.20L155.65,192.70L151.85,192.70Z" fill="#ffbb78"/>
<path d="M157.45,196.20L159.35,192.70L155.55,192.70Z" fill="#ffbb78"/>
<path d="M161.15,196.20L163.05,192.70L159.25,192.70Z" fill="#ffbb78"/>
<line x1="151.50" y1="115.20" x2="151.50" y2="194.20" stroke="#1a1a1a" stroke-width="1.2"/>
<line x1="147.40" y1="115.20" x2="156.40" y2="115.20" stroke="#111" stroke-width="1.3"/>
<line x1="147.40" y1="194.20" x2="156.40" y2="194.20" stroke="#111" stroke-width="1.3"/>
<line x1="143.30" y1="140.50" x2="160.50" y2="140.50" stroke="#111" stroke-width="1.3"/>
<circle cx="199.20" cy="53.20" r="1.75" fill="#7fb4f5"/>
<circle cx="194.30" cy="70.90" r="1.75" fill="#7fb4f5"/>
<circle cx="199.20" cy="70.90" r="1.75" fill="#7fb4f5"/>
<circle cx="199.20" cy="74.70" r="1.75" fill="#7fb4f5"/>
<circle cx="194.30" cy="77.60" r="1.75" fill="#7fb4f5"/>
<circle cx="199.20" cy="79.70" r="1.75" fill="#7fb4f5"/>
<circle cx="194.30" cy="81.20" r="1.75" fill="#7fb4f5"/>
<circle cx="199.20" cy="87.10" r="1.75" fill="#7fb4f5"/>
<circle cx="204.20" cy="92.10" r="1.75" fill="#7fb4f5"/>
<circle cx="189.50" cy="94.90" r="1.75" fill="#7fb4f5"/>
<circle cx="194.30" cy="94.90" r="1.75" fill="#7fb4f5"/>
<circle cx="199.20" cy="94.90" r="1.75" fill="#7fb4f5"/>
<circle cx="189.50" cy="99.00" r="1.75" fill="#7fb4f5"/>
<circle cx="189.50" cy="103.50" r="1.75" fill="#7fb4f5"/>
<circle cx="194.30" cy="103.50" r="1.75" fill="#7fb4f5"/>
<circle cx="199.20" cy="103.50" r="1.75" fill="#7fb4f5"/>
<circle cx="189.50" cy="108.50" r="1.75" fill="#7fb4f5"/>
<circle cx="194.30" cy="108.50" r="1.75" fill="#7fb4f5"/>
<circle cx="199.20" cy="108.50" r="1.75" fill="#7fb4f5"/>
<circle cx="204.20" cy="108.50" r="1.75" fill="#7fb4f5"/>
<circle cx="194.25" cy="124.60" r="1.75" fill="#7fb4f5"/>
<circle cx="199.15" cy="124.60" r="1.75" fill="#7fb4f5"/>
<circle cx="194.25" cy="140.70" r="1.75" fill="#7fb4f5"/>
<circle cx="199.15" cy="140.70" r="1.75" fill="#7fb4f5"/>
<line x1="196.50" y1="79.50" x2="196.50" y2="108.30" stroke="#1a1a1a" stroke-width="1.2"/>
<line x1="192.20" y1="79.50" x2="201.20" y2="79.50" stroke="#111" stroke-width="1.3"/>
<line x1="192.20" y1="108.30" x2="201.20" y2="108.30" stroke="#111" stroke-width="1.3"/>
<line x1="188.10" y1="96.80" x2="205.30" y2="96.80" stroke="#111" stroke-width="1.3"/>
<rect x="221.85" y="48.30" width="3.3" height="3.3" fill="#98f598"/>
<rect x="221.85" y="53.70" width="3.3" height="3.3" fill="#98f598"/>
<rect x="221.85" y="58.80" width="3.3" height="3.3" fill="#98f598"/>
<rect x="218.25" y="61.30" width="3.3" height="3.3" fill="#98f598"/>
<rect x="221.85" y="65.70" width="3.3" height="3.3" fill="#98f598"/>
<rect x="225.65" y="64.90" width="3.3" height="3.3" fill="#98f598"/>
<rect x="221.85" y="72.90" width="3.3" height="3.3" fill="#98f598"/>
<rect x="218.25" y="82.90" width="3.3" height="3.3" fill="#98f598"/>
<rect x="225.65" y="82.90" width="3.3" height="3.3" fill="#98f598"/>
<rect x="221.85" y="85.00" width="3.3" height="3.3" fill="#98f598"/>
<rect x="225.65" y="90.50" width="3.3" height="3.3" fill="#98f598"/>
<rect x="221.85" y="93.40" width="3.3" height="3.3" fill="#98f598"/>
<rect x="218.25" y="97.00" width="3.3" height="3.3" fill="#98f598"/>
<rect x="225.65" y="97.00" width="3.3" height="3.3" fill="#98f598"/>
<rect x="218.25" y="113.30" width="3.3" height="3.3" fill="#98f598"/>
<rect x="225.65" y="113.30" width="3.3" height="3.3" fill="#98f598"/>
<rect x="221.85" y="122.80" width="3.3" height="3.3" fill="#98f598"/>
<rect x="214.35" y="138.90" width="3.3" height="3.3" fill="#98f598"/>
<rect x="217.35" y="138.90" width="3.3" height="3.3" fill="#98f598"/>
<rect x="220.35" y="138.90" width="3.3" height="3.3" fill="#98f598"/>
<rect x="223.35" y="138.90" width="3.3" height="3.3" fill="#98f598"/>
<rect x="226.35" y="138.90" width="3.3" height="3.3" fill="#98f598"/>
<rect x="229.35" y="138.90" width="3.3" height="3.3" fill="#98f598"/>
<line x1="223.50" y1="70.70" x2="223.50" y2="124.40" stroke="#1a1a1a" stroke-width="1.2"/>
<line x1="219.00" y1="70.70" x2="228.00" y2="70.70" stroke="#111" stroke-width="1.3"/>
<line x1="219.00" y1="124.40" x2="228.00" y2="124.40" stroke="#111" stroke-width="1.3"/>
<line x1="214.90" y1="98.60" x2="232.10" y2="98.60" stroke="#111" stroke-width="1.3"/>
<path d="M250.40,38.00L252.30,41.50L248.50,41.50Z" fill="#ff9e9e"/>
<path d="M250.40,79.20L252.30,82.70L248.50,82.70Z" fill="#ff9e9e"/>
<path d="M250.40,83.00L252.30,86.50L248.50,86.50Z" fill="#ff9e9e"/>
<path d="M250.40,89.60L252.30,93.10L248.50,93.10Z" fill="#ff9e9e"/>
<path d="M243.30,93.40L245.20,96.90L241.40,96.90Z" fill="#ff9e9e"/>
<path d="M257.80,93.40L259.70,96.90L255.90,96.90Z" fill="#ff9e9e"/>
<path d="M250.40,97.70L252.30,101.20L248.50,101.20Z" fill="#ff9e9e"/>
<path d="M243.30,100.60L245.20,104.10L241.40,104.10Z" fill="#ff9e9e"/>
<path d="M243.30,106.50L245.20,110.00L241.40,110.00Z" fill="#ff9e9e"/>
<path d="M250.40,106.50L252.30,110.00L248.50,110.00Z" fill="#ff9e9e"/>
<path d="M243.30,113.10L245.20,116.60L241.40,116.60Z" fill="#ff9e9e"/>
<path d="M250.40,113.10L252.30,116.60L248.50,116.60Z" fill="#ff9e9e"/>
<path d="M257.80,113.10L259.70,116.60L255.90,116.60Z" fill="#ff9e9e"/>
<path d="M243.30,121.90L245.20,125.40L241.40,125.40Z" fill="#ff9e9e"/>
<path d="M257.80,121.90L259.70,125.40L255.90,125.40Z" fill="#ff9e9e"/>
<line x1="250.50" y1="92.90" x2="250.50" y2="115.10" stroke="#1a1a1a" stroke-width="1.2"/>
<line x1="245.90" y1="92.90" x2="254.90" y2="92.90" stroke="#111" stroke-width="1.3"/>
<line x1="245.90" y1="115.10" x2="254.90" y2="115.10" stroke="#111" stroke-width="1.3"/>
<line x1="241.80" y1="105.40" x2="259.00" y2="105.40" stroke="#111" stroke-width="1.3"/>
<path d="M277.30,49.30L279.20,45.80L275.40,45.80Z" fill="#ffbb78"/>
<path d="M277.30,100.10L279.20,96.60L275.40,96.60Z" fill="#ffbb78"/>
<path d="M277.30,104.30L279.20,100.80L275.40,100.80Z" fill="#ffbb78"/>
<path d="M270.10,110.10L272.00,106.60L268.20,106.60Z" fill="#ffbb78"/>
<path d="M277.30,110.10L279.20,106.60L275.40,106.60Z" fill="#ffbb78"/>
<path d="M284.50,110.10L286.40,106.60L282.60,106.60Z" fill="#ffbb78"/>
<path d="M270.10,116.80L272.00,113.30L268.20,113.30Z" fill="#ffbb78"/>
<path d="M277.30,116.80L279.20,113.30L275.40,113.30Z" fill="#ffbb78"/>
<path d="M284.50,116.80L286.40,113.30L282.60,113.30Z" fill="#ffbb78"/>
<path d="M277.30,125.50L279.20,122.00L275.40,122.00Z" fill="#ffbb78"/>
<path d="M284.30,126.70L286.20,123.20L282.40,123.20Z" fill="#ffbb78"/>
<path d="M277.30,142.50L279.20,139.00L275.40,139.00Z" fill="#ffbb78"/>
<path d="M284.30,142.50L286.20,139.00L282.40,139.00Z" fill="#ffbb78"/>
<path d="M270.10,196.20L272.00,192.70L268.20,192.70Z" fill="#ffbb78"/>
<path d="M284.40,196.20L286.30,192.70L282.50,192.70Z" fill="#ffbb78"/>
<line x1="277.50" y1="108.30" x2="277.50" y2="140.50" stroke="#1a1a1a" stroke-width="1.2"/>
<line x1="272.80" y1="108.30" x2="281.80" y2="108.30" stroke="#111" stroke-width="1.3"/>
<line x1="272.80" y1="140.50" x2="281.80" y2="140.50" stroke="#111" stroke-width="1.3"/>
<line x1="268.70" y1="114.80" x2="285.90" y2="114.80" stroke="#111" stroke-width="1.3"/>
<path d="M248.40,24.50V16.90H279.00V24.50" fill="none" stroke="#222" stroke-width="1.1"/>
<polygon points="264.50,6.90 265.16,8.49 266.88,8.63 265.57,9.75 265.97,11.42 264.50,10.53 263.03,11.42 263.43,9.75 262.12,8.63 263.84,8.49" fill="#111"/>
<circle cx="397.40" cy="47.10" r="1.75" fill="#7fb4f5"/>
<circle cx="394.20" cy="50.00" r="1.75" fill="#7fb4f5"/>
<circle cx="397.40" cy="52.50" r="1.75" fill="#7fb4f5"/>
<circle cx="397.40" cy="58.10" r="1.75" fill="#7fb4f5"/>
<circle cx="400.50" cy="61.10" r="1.75" fill="#7fb4f5"/>
<circle cx="397.40" cy="63.70" r="1.75" fill="#7fb4f5"/>
<circle cx="388.30" cy="65.40" r="1.75" fill="#7fb4f5"/>
<circle cx="391.10" cy="66.50" r="1.75" fill="#7fb4f5"/>
<circle cx="400.50" cy="65.80" r="1.75" fill="#7fb4f5"/>
<circle cx="394.20" cy="67.20" r="1.75" fill="#7fb4f5"/>
<circle cx="397.40" cy="68.20" r="1.75" fill="#7fb4f5"/>
<circle cx="400.50" cy="71.00" r="1.75" fill="#7fb4f5"/>
<circle cx="394.20" cy="73.80" r="1.75" fill="#7fb4f5"/>
<circle cx="397.40" cy="74.50" r="1.75" fill="#7fb4f5"/>
<circle cx="394.20" cy="77.70" r="1.75" fill="#7fb4f5"/>
<circle cx="397.40" cy="80.10" r="1.75" fill="#7fb4f5"/>
<circle cx="394.20" cy="85.60" r="1.75" fill="#7fb4f5"/>
<circle cx="394.10" cy="99.70" r="1.75" fill="#7fb4f5"/>
<circle cx="388.60" cy="188.60" r="1.75" fill="#7fb4f5"/>
<circle cx="391.00" cy="188.60" r="1.75" fill="#7fb4f5"/>
<circle cx="393.40" cy="188.60" r="1.75" fill="#7fb4f5"/>
<circle cx="395.80" cy="188.60" r="1.75" fill="#7fb4f5"/>
<circle cx="398.20" cy="188.60" r="1.75" fill="#7fb4f5"/>
<circle cx="400.60" cy="188.60" r="1.75" fill="#7fb4f5"/>
<circle cx="403.00" cy="188.60" r="1.75" fill="#7fb4f5"/>
<line x1="395.50" y1="64.50" x2="395.50" y2="118.50" stroke="#1a1a1a" stroke-width="1.2"/>
<line x1="391.30" y1="64.50" x2="400.30" y2="64.50" stroke="#111" stroke-width="1.3"/>
<line x1="391.30" y1="118.50" x2="400.30" y2="118.50" stroke="#111" stroke-width="1.3"/>
<line x1="387.20" y1="72.40" x2="404.40" y2="72.40" stroke="#111" stroke-width="1.3"/>
<rect x="421.35" y="49.30" width="3.3" height="3.3" fill="#98f598"/>
<rect x="423.75" y="48.60" width="3.3" height="3.3" fill="#98f598"/>
<rect x="419.05" y="51.50" width="3.3" height="3.3" fill="#98f598"/>
<rect x="419.85" y="59.50" width="3.3" height="3.3" fill="#98f598"/>
<rect x="422.75" y="59.10" width="3.3" height="3.3" fill="#98f598"/>
<rect x="425.95" y="61.10" width="3.3" height="3.3" fill="#98f598"/>
<rect x="429.15" y="62.30" width="3.3" height="3.3" fill="#98f598"/>
<rect x="413.85" y="65.90" width="3.3" height="3.3" fill="#98f598"/>
<rect x="417.05" y="66.30" width="3.3" height="3.3" fill="#98f598"/>
<rect x="419.85" y="65.90" width="3.3" height="3.3" fill="#98f598"/>
<rect x="422.75" y="65.50" width="3.3" height="3.3" fill="#98f598"/>
<rect x="425.95" y="65.50" width="3.3" height="3.3" fill="#98f598"/>
<rect x="413.85" y="67.50" width="3.3" height="3.3" fill="#98f598"/>
<rect x="417.05" y="67.90" width="3.3" height="3.3" fill="#98f598"/>
<rect x="419.85" y="67.90" width="3.3" height="3.3" fill="#98f598"/>
<rect x="422.75" y="68.70" width="3.3" height="3.3" fill="#98f598"/>
<rect x="425.95" y="70.40" width="3.3" height="3.3" fill="#98f598"/>
<rect x="417.05" y="73.60" width="3.3" height="3.3" fill="#98f598"/>
<rect x="419.85" y="73.60" width="3.3" height="3.3" fill="#98f598"/>
<rect x="419.85" y="77.20" width="3.3" height="3.3" fill="#98f598"/>
<rect x="422.75" y="77.20" width="3.3" height="3.3" fill="#98f598"/>
<rect x="419.05" y="78.10" width="3.3" height="3.3" fill="#98f598"/>
<rect x="419.05" y="97.60" width="3.3" height="3.3" fill="#98f598"/>
<rect x="413.50" y="186.80" width="3.3" height="3.3" fill="#98f598"/>
<rect x="416.40" y="186.80" width="3.3" height="3.3" fill="#98f598"/>
<rect x="419.30" y="186.80" width="3.3" height="3.3" fill="#98f598"/>
<rect x="422.20" y="186.80" width="3.3" height="3.3" fill="#98f598"/>
<rect x="425.10" y="186.80" width="3.3" height="3.3" fill="#98f598"/>
<rect x="428.00" y="186.80" width="3.3" height="3.3" fill="#98f598"/>
<line x1="422.50" y1="65.50" x2="422.50" y2="108.90" stroke="#1a1a1a" stroke-width="1.2"/>
<line x1="417.90" y1="65.50" x2="426.90" y2="65.50" stroke="#111" stroke-width="1.3"/>
<line x1="417.90" y1="108.90" x2="426.90" y2="108.90" stroke="#111" stroke-width="1.3"/>
<line x1="413.80" y1="73.40" x2="431.00" y2="73.40" stroke="#111" stroke-width="1.3"/>
<path d="M445.90,51.50L447.80,55.00L444.00,55.00Z" fill="#ff9e9e"/>
<path d="M453.20,53.10L455.10,56.60L451.30,56.60Z" fill="#ff9e9e"/>
<path d="M442.30,56.50L444.20,60.00L440.40,60.00Z" fill="#ff9e9e"/>
<path d="M456.90,57.50L458.80,61.00L455.00,61.00Z" fill="#ff9e9e"/>
<path d="M445.90,59.70L447.80,63.20L444.00,63.20Z" fill="#ff9e9e"/>
<path d="M449.50,59.70L451.40,63.20L447.60,63.20Z" fill="#ff9e9e"/>
<path d="M442.30,62.40L444.20,65.90L440.40,65.90Z" fill="#ff9e9e"/>
<path d="M445.90,64.10L447.80,67.60L444.00,67.60Z" fill="#ff9e9e"/>
<path d="M453.20,64.10L455.10,67.60L451.30,67.60Z" fill="#ff9e9e"/>
<path d="M449.50,69.10L451.40,72.60L447.60,72.60Z" fill="#ff9e9e"/>
<path d="M449.50,72.90L451.40,76.40L447.60,76.40Z" fill="#ff9e9e"/>
<path d="M449.50,76.90L451.40,80.40L447.60,80.40Z" fill="#ff9e9e"/>
<path d="M449.50,97.20L451.40,100.70L447.60,100.70Z" fill="#ff9e9e"/>
<path d="M449.50,112.60L451.40,116.10L447.60,116.10Z" fill="#ff9e9e"/>
<line x1="449.50" y1="59.40" x2="449.50" y2="73.40" stroke="#1a1a1a" stroke-width="1.2"/>
<line x1="445.00" y1="59.40" x2="454.00" y2="59.40" stroke="#111" stroke-width="1.3"/>
<line x1="445.00" y1="73.40" x2="454.00" y2="73.40" stroke="#111" stroke-width="1.3"/>
<line x1="440.90" y1="64.30" x2="458.10" y2="64.30" stroke="#111" stroke-width="1.3"/>
<path d="M478.60,50.40L480.50,46.90L476.70,46.90Z" fill="#ffbb78"/>
<path d="M473.60,54.60L475.50,51.10L471.70,51.10Z" fill="#ffbb78"/>
<path d="M478.60,55.00L480.50,51.50L476.70,51.50Z" fill="#ffbb78"/>
<path d="M483.90,59.20L485.80,55.70L482.00,55.70Z" fill="#ffbb78"/>
<path d="M473.60,61.60L475.50,58.10L471.70,58.10Z" fill="#ffbb78"/>
<path d="M478.60,61.60L480.50,58.10L476.70,58.10Z" fill="#ffbb78"/>
<path d="M473.60,66.40L475.50,62.90L471.70,62.90Z" fill="#ffbb78"/>
<path d="M473.60,71.00L475.50,67.50L471.70,67.50Z" fill="#ffbb78"/>
<path d="M473.90,101.00L475.80,97.50L472.00,97.50Z" fill="#ffbb78"/>
<path d="M473.90,190.40L475.80,186.90L472.00,186.90Z" fill="#ffbb78"/>
<path d="M478.70,190.40L480.60,186.90L476.80,186.90Z" fill="#ffbb78"/>
<line x1="476.50" y1="56.50" x2="476.50" y2="76.30" stroke="#1a1a1a" stroke-width="1.2"/>
<line x1="471.80" y1="56.50" x2="480.80" y2="56.50" stroke="#111" stroke-width="1.3"/>
<line x1="471.80" y1="76.30" x2="480.80" y2="76.30" stroke="#111" stroke-width="1.3"/>
<line x1="467.70" y1="62.10" x2="484.90" y2="62.10" stroke="#111" stroke-width="1.3"/>
<circle cx="521.00" cy="48.20" r="1.75" fill="#7fb4f5"/>
<circle cx="524.70" cy="48.20" r="1.75" fill="#7fb4f5"/>
<circle cx="524.70" cy="51.60" r="1.75" fill="#7fb4f5"/>
<circle cx="517.30" cy="53.50" r="1.75" fill="#7fb4f5"/>
<circle cx="521.00" cy="53.50" r="1.75" fill="#7fb4f5"/>
<circle cx="528.40" cy="55.40" r="1.75" fill="#7fb4f5"/>
<circle cx="513.60" cy="57.20" r="1.75" fill="#7fb4f5"/>
<circle cx="517.30" cy="58.00" r="1.75" fill="#7fb4f5"/>
<circle cx="524.70" cy="59.00" r="1.75" fill="#7fb4f5"/>
<circle cx="513.60" cy="60.20" r="1.75" fill="#7fb4f5"/>
<circle cx="517.30" cy="60.80" r="1.75" fill="#7fb4f5"/>
<circle cx="521.00" cy="60.80" r="1.75" fill="#7fb4f5"/>
<circle cx="513.60" cy="64.90" r="1.75" fill="#7fb4f5"/>
<circle cx="524.70" cy="64.20" r="1.75" fill="#7fb4f5"/>
<circle cx="528.40" cy="64.70" r="1.75" fill="#7fb4f5"/>
<circle cx="521.00" cy="69.70" r="1.75" fill="#7fb4f5"/>
<circle cx="524.70" cy="73.50" r="1.75" fill="#7fb4f5"/>
<circle cx="517.30" cy="75.60" r="1.75" fill="#7fb4f5"/>
<circle cx="521.00" cy="78.10" r="1.75" fill="#7fb4f5"/>
<circle cx="524.70" cy="78.10" r="1.75" fill="#7fb4f5"/>
<circle cx="521.00" cy="87.60" r="1.75" fill="#7fb4f5"/>
<circle cx="517.10" cy="188.60" r="1.75" fill="#7fb4f5"/>
<circle cx="524.30" cy="188.60" r="1.75" fill="#7fb4f5"/>
<line x1="521.50" y1="55.40" x2="521.50" y2="74.30" stroke="#1a1a1a" stroke-width="1.2"/>
<line x1="516.50" y1="55.40" x2="525.50" y2="55.40" stroke="#111" stroke-width="1.3"/>
<line x1="516.50" y1="74.30" x2="525.50" y2="74.30" stroke="#111" stroke-width="1.3"/>
<line x1="512.40" y1="62.20" x2="529.60" y2="62.20" stroke="#111" stroke-width="1.3"/>
<rect x="547.05" y="48.20" width="3.3" height="3.3" fill="#98f598"/>
<rect x="550.05" y="48.20" width="3.3" height="3.3" fill="#98f598"/>
<rect x="543.55" y="50.70" width="3.3" height="3.3" fill="#98f598"/>
<rect x="546.55" y="50.70" width="3.3" height="3.3" fill="#98f598"/>
<rect x="542.05" y="53.50" width="3.3" height="3.3" fill="#98f598"/>
<rect x="549.05" y="53.50" width="3.3" height="3.3" fill="#98f598"/>
<rect x="541.55" y="55.10" width="3.3" height="3.3" fill="#98f598"/>
<rect x="544.55" y="55.10" width="3.3" height="3.3" fill="#98f598"/>
<rect x="549.05" y="59.20" width="3.3" height="3.3" fill="#98f598"/>
<rect x="552.05" y="59.20" width="3.3" height="3.3" fill="#98f598"/>
<rect x="540.55" y="61.10" width="3.3" height="3.3" fill="#98f598"/>
<rect x="543.55" y="61.10" width="3.3" height="3.3" fill="#98f598"/>
<rect x="551.55" y="61.10" width="3.3" height="3.3" fill="#98f598"/>
<rect x="541.55" y="64.90" width="3.3" height="3.3" fill="#98f598"/>
<rect x="544.55" y="64.90" width="3.3" height="3.3" fill="#98f598"/>
<rect x="547.55" y="64.90" width="3.3" height="3.3" fill="#98f598"/>
<rect x="551.55" y="64.90" width="3.3" height="3.3" fill="#98f598"/>
<rect x="543.55" y="69.90" width="3.3" height="3.3" fill="#98f598"/>
<rect x="546.55" y="69.90" width="3.3" height="3.3" fill="#98f598"/>
<rect x="543.55" y="72.40" width="3.3" height="3.3" fill="#98f598"/>
<rect x="546.55" y="72.40" width="3.3" height="3.3" fill="#98f598"/>
<rect x="544.05" y="75.30" width="3.3" height="3.3" fill="#98f598"/>
<rect x="546.55" y="75.30" width="3.3" height="3.3" fill="#98f598"/>
<rect x="544.85" y="186.80" width="3.3" height="3.3" fill="#98f598"/>
<rect x="547.05" y="186.80" width="3.3" height="3.3" fill="#98f598"/>
<line x1="547.50" y1="59.40" x2="547.50" y2="69.20" stroke="#1a1a1a" stroke-width="1.2"/>
<line x1="543.10" y1="59.40" x2="552.10" y2="59.40" stroke="#111" stroke-width="1.3"/>
<line x1="543.10" y1="69.20" x2="552.10" y2="69.20" stroke="#111" stroke-width="1.3"/>
<line x1="539.00" y1="65.20" x2="556.20" y2="65.20" stroke="#111" stroke-width="1.3"/>
<path d="M578.80,49.40L580.70,52.90L576.90,52.90Z" fill="#ff9e9e"/>
<path d="M569.80,51.10L571.70,54.60L567.90,54.60Z" fill="#ff9e9e"/>
<path d="M572.90,51.10L574.80,54.60L571.00,54.60Z" fill="#ff9e9e"/>
<path d="M576.30,51.10L578.20,54.60L574.40,54.60Z" fill="#ff9e9e"/>
<path d="M567.40,55.00L569.30,58.50L565.50,58.50Z" fill="#ff9e9e"/>
<path d="M572.90,55.00L574.80,58.50L571.00,58.50Z" fill="#ff9e9e"/>
<path d="M567.40,57.80L569.30,61.30L565.50,61.30Z" fill="#ff9e9e"/>
<path d="M569.80,57.80L571.70,61.30L567.90,61.30Z" fill="#ff9e9e"/>
<path d="M572.90,57.80L574.80,61.30L571.00,61.30Z" fill="#ff9e9e"/>
<path d="M576.30,57.80L578.20,61.30L574.40,61.30Z" fill="#ff9e9e"/>
<path d="M578.80,57.80L580.70,61.30L576.90,61.30Z" fill="#ff9e9e"/>
<path d="M581.70,57.80L583.60,61.30L579.80,61.30Z" fill="#ff9e9e"/>
<path d="M567.40,60.00L569.30,63.50L565.50,63.50Z" fill="#ff9e9e"/>
<path d="M572.90,60.50L574.80,64.00L571.00,64.00Z" fill="#ff9e9e"/>
<path d="M581.70,60.00L583.60,63.50L579.80,63.50Z" fill="#ff9e9e"/>
<path d="M572.90,69.20L574.80,72.70L571.00,72.70Z" fill="#ff9e9e"/>
<path d="M572.90,74.20L574.80,77.70L571.00,77.70Z" fill="#ff9e9e"/>
<path d="M576.30,74.20L578.20,77.70L574.40,77.70Z" fill="#ff9e9e"/>
<line x1="574.50" y1="55.10" x2="574.50" y2="62.10" stroke="#1a1a1a" stroke-width="1.2"/>
<line x1="570.10" y1="55.10" x2="579.10" y2="55.10" stroke="#111" stroke-width="1.3"/>
<line x1="570.10" y1="62.10" x2="579.10" y2="62.10" stroke="#111" stroke-width="1.3"/>
<line x1="566.00" y1="59.60" x2="583.20" y2="59.60" stroke="#111" stroke-width="1.3"/>
<path d="M601.30,51.30L603.20,47.80L599.40,47.80Z" fill="#ffbb78"/>
<path d="M593.50,59.70L595.40,56.20L591.60,56.20Z" fill="#ffbb78"/>
<path d="M596.10,59.70L598.00,56.20L594.20,56.20Z" fill="#ffbb78"/>
<path d="M605.30,59.70L607.20,56.20L603.40,56.20Z" fill="#ffbb78"/>
<path d="M608.30,59.70L610.20,56.20L606.40,56.20Z" fill="#ffbb78"/>
<path d="M598.60,68.10L600.50,64.60L596.70,64.60Z" fill="#ffbb78"/>
<path d="M603.60,68.10L605.50,64.60L601.70,64.60Z" fill="#ffbb78"/>
<path d="M601.30,84.20L603.20,80.70L599.40,80.70Z" fill="#ffbb78"/>
<path d="M598.80,190.40L600.70,186.90L596.90,186.90Z" fill="#ffbb78"/>
<path d="M603.60,190.40L605.50,186.90L601.70,186.90Z" fill="#ffbb78"/>
<line x1="601.50" y1="59.90" x2="601.50" y2="69.40" stroke="#1a1a1a" stroke-width="1.2"/>
<line x1="596.80" y1="59.90" x2="605.80" y2="59.90" stroke="#111" stroke-width="1.3"/>
<line x1="596.80" y1="69.40" x2="605.80" y2="69.40" stroke="#111" stroke-width="1.3"/>
<line x1="592.70" y1="60.40" x2="609.90" y2="60.40" stroke="#111" stroke-width="1.3"/>
<line x1="71.50" y1="380.70" x2="71.50" y2="434.30" stroke="#1a1a1a" stroke-width="1.2"/>
<line x1="67.00" y1="380.70" x2="76.00" y2="380.70" stroke="#111" stroke-width="1.3"/>
<circle cx="71.50" cy="334.20" r="1.75" fill="#7fb4f5"/>
<circle cx="71.50" cy="359.60" r="1.75" fill="#7fb4f5"/>
<circle cx="71.50" cy="371.70" r="1.75" fill="#7fb4f5"/>
<circle cx="69.65" cy="380.90" r="1.75" fill="#7fb4f5"/>
<circle cx="73.35" cy="380.90" r="1.75" fill="#7fb4f5"/>
<circle cx="71.50" cy="397.30" r="1.75" fill="#7fb4f5"/>
<circle cx="64.70" cy="434.50" r="1.75" fill="#7fb4f5"/>
<circle cx="66.40" cy="434.50" r="1.75" fill="#7fb4f5"/>
<circle cx="68.10" cy="434.50" r="1.75" fill="#7fb4f5"/>
<circle cx="69.80" cy="434.50" r="1.75" fill="#7fb4f5"/>
<circle cx="71.50" cy="434.50" r="1.75" fill="#7fb4f5"/>
<circle cx="73.20" cy="434.50" r="1.75" fill="#7fb4f5"/>
<circle cx="74.90" cy="434.50" r="1.75" fill="#7fb4f5"/>
<circle cx="76.60" cy="434.50" r="1.75" fill="#7fb4f5"/>
<circle cx="78.30" cy="434.50" r="1.75" fill="#7fb4f5"/>
<rect x="96.65" y="349.70" width="3.3" height="3.3" fill="#98f598"/>
<rect x="96.65" y="353.10" width="3.3" height="3.3" fill="#98f598"/>
<rect x="96.65" y="357.80" width="3.3" height="3.3" fill="#98f598"/>
<rect x="94.25" y="369.90" width="3.3" height="3.3" fill="#98f598"/>
<rect x="99.05" y="369.90" width="3.3" height="3.3" fill="#98f598"/>
<rect x="92.95" y="379.10" width="3.3" height="3.3" fill="#98f598"/>
<rect x="96.65" y="379.10" width="3.3" height="3.3" fill="#98f598"/>
<rect x="100.35" y="379.10" width="3.3" height="3.3" fill="#98f598"/>
<rect x="91.10" y="395.50" width="3.3" height="3.3" fill="#98f598"/>
<rect x="94.80" y="395.50" width="3.3" height="3.3" fill="#98f598"/>
<rect x="98.50" y="395.50" width="3.3" height="3.3" fill="#98f598"/>
<rect x="102.20" y="395.50" width="3.3" height="3.3" fill="#98f598"/>
<rect x="89.40" y="432.70" width="3.3" height="3.3" fill="#98f598"/>
<rect x="92.30" y="432.70" width="3.3" height="3.3" fill="#98f598"/>
<rect x="95.20" y="432.70" width="3.3" height="3.3" fill="#98f598"/>
<rect x="98.10" y="432.70" width="3.3" height="3.3" fill="#98f598"/>
<rect x="101.00" y="432.70" width="3.3" height="3.3" fill="#98f598"/>
<rect x="103.90" y="432.70" width="3.3" height="3.3" fill="#98f598"/>
<line x1="98.50" y1="380.70" x2="98.50" y2="434.30" stroke="#1a1a1a" stroke-width="1.2"/>
<line x1="93.80" y1="380.70" x2="102.80" y2="380.70" stroke="#111" stroke-width="1.3"/>
<line x1="93.80" y1="434.30" x2="102.80" y2="434.30" stroke="#111" stroke-width="1.3"/>
<line x1="89.70" y1="397.10" x2="106.90" y2="397.10" stroke="#111" stroke-width="1.3"/>
<line x1="125.50" y1="397.10" x2="125.50" y2="434.30" stroke="#1a1a1a" stroke-width="1.2"/>
<line x1="120.60" y1="397.10" x2="129.60" y2="397.10" stroke="#111" stroke-width="1.3"/>
<path d="M122.70,369.50L124.60,373.00L120.80,373.00Z" fill="#ff9e9e"/>
<path d="M127.50,369.50L129.40,373.00L125.60,373.00Z" fill="#ff9e9e"/>
<path d="M125.10,378.70L127.00,382.20L123.20,382.20Z" fill="#ff9e9e"/>
<path d="M125.10,395.10L127.00,398.60L123.20,398.60Z" fill="#ff9e9e"/>
<path d="M117.30,432.30L119.20,435.80L115.40,435.80Z" fill="#ff9e9e"/>
<path d="M119.90,432.30L121.80,435.80L118.00,435.80Z" fill="#ff9e9e"/>
<path d="M122.50,432.30L124.40,435.80L120.60,435.80Z" fill="#ff9e9e"/>
<path d="M125.10,432.30L127.00,435.80L123.20,435.80Z" fill="#ff9e9e"/>
<path d="M127.70,432.30L129.60,435.80L125.80,435.80Z" fill="#ff9e9e"/>
<path d="M130.30,432.30L132.20,435.80L128.40,435.80Z" fill="#ff9e9e"/>
<path d="M132.90,432.30L134.80,435.80L131.00,435.80Z" fill="#ff9e9e"/>
<path d="M147.40,382.40L149.30,378.90L145.50,378.90Z" fill="#ffbb78"/>
<path d="M153.10,382.40L155.00,378.90L151.20,378.90Z" fill="#ffbb78"/>
<path d="M156.80,382.40L158.70,378.90L154.90,378.90Z" fill="#ffbb78"/>
<path d="M144.50,399.10L146.40,395.60L142.60,395.60Z" fill="#ffbb78"/>
<path d="M148.20,399.10L150.10,395.60L146.30,395.60Z" fill="#ffbb78"/>
<path d="M151.90,399.10L153.80,395.60L150.00,395.60Z" fill="#ffbb78"/>
<path d="M155.60,399.10L157.50,395.60L153.70,395.60Z" fill="#ffbb78"/>
<path d="M159.30,399.10L161.20,395.60L157.40,395.60Z" fill="#ffbb78"/>
<path d="M143.90,436.30L145.80,432.80L142.00,432.80Z" fill="#ffbb78"/>
<path d="M147.10,436.30L149.00,432.80L145.20,432.80Z" fill="#ffbb78"/>
<path d="M150.30,436.30L152.20,432.80L148.40,432.80Z" fill="#ffbb78"/>
<path d="M153.50,436.30L155.40,432.80L151.60,432.80Z" fill="#ffbb78"/>
<path d="M156.70,436.30L158.60,432.80L154.80,432.80Z" fill="#ffbb78"/>
<path d="M159.90,436.30L161.80,432.80L158.00,432.80Z" fill="#ffbb78"/>
<line x1="151.50" y1="397.10" x2="151.50" y2="434.30" stroke="#1a1a1a" stroke-width="1.2"/>
<line x1="147.40" y1="397.10" x2="156.40" y2="397.10" stroke="#111" stroke-width="1.3"/>
<line x1="147.40" y1="434.30" x2="156.40" y2="434.30" stroke="#111" stroke-width="1.3"/>
<line x1="143.30" y1="397.10" x2="160.50" y2="397.10" stroke="#111" stroke-width="1.3"/>
<circle cx="198.80" cy="311.30" r="1.75" fill="#7fb4f5"/>
<circle cx="193.90" cy="315.90" r="1.75" fill="#7fb4f5"/>
<circle cx="198.80" cy="325.40" r="1.75" fill="#7fb4f5"/>
<circle cx="198.80" cy="330.00" r="1.75" fill="#7fb4f5"/>
<circle cx="193.90" cy="343.50" r="1.75" fill="#7fb4f5"/>
<circle cx="198.80" cy="345.80" r="1.75" fill="#7fb4f5"/>
<circle cx="193.90" cy="351.90" r="1.75" fill="#7fb4f5"/>
<circle cx="198.80" cy="351.90" r="1.75" fill="#7fb4f5"/>
<circle cx="198.80" cy="355.60" r="1.75" fill="#7fb4f5"/>
<circle cx="193.90" cy="359.60" r="1.75" fill="#7fb4f5"/>
<circle cx="198.80" cy="359.60" r="1.75" fill="#7fb4f5"/>
<circle cx="193.90" cy="371.30" r="1.75" fill="#7fb4f5"/>
<circle cx="198.80" cy="371.30" r="1.75" fill="#7fb4f5"/>
<circle cx="188.77" cy="381.00" r="1.75" fill="#7fb4f5"/>
<circle cx="193.72" cy="381.00" r="1.75" fill="#7fb4f5"/>
<circle cx="198.67" cy="381.00" r="1.75" fill="#7fb4f5"/>
<circle cx="203.62" cy="381.00" r="1.75" fill="#7fb4f5"/>
<circle cx="188.80" cy="396.90" r="1.75" fill="#7fb4f5"/>
<circle cx="193.90" cy="396.90" r="1.75" fill="#7fb4f5"/>
<circle cx="203.70" cy="396.90" r="1.75" fill="#7fb4f5"/>
<circle cx="188.77" cy="434.50" r="1.75" fill="#7fb4f5"/>
<circle cx="193.72" cy="434.50" r="1.75" fill="#7fb4f5"/>
<circle cx="198.67" cy="434.50" r="1.75" fill="#7fb4f5"/>
<circle cx="203.62" cy="434.50" r="1.75" fill="#7fb4f5"/>
<line x1="196.50" y1="347.40" x2="196.50" y2="396.70" stroke="#1a1a1a" stroke-width="1.2"/>
<line x1="191.70" y1="347.40" x2="200.70" y2="347.40" stroke="#111" stroke-width="1.3"/>
<line x1="191.70" y1="396.70" x2="200.70" y2="396.70" stroke="#111" stroke-width="1.3"/>
<line x1="187.60" y1="371.10" x2="204.80" y2="371.10" stroke="#111" stroke-width="1.3"/>
<rect x="223.95" y="294.20" width="3.3" height="3.3" fill="#98f598"/>
<rect x="219.05" y="311.80" width="3.3" height="3.3" fill="#98f598"/>
<rect x="223.95" y="310.90" width="3.3" height="3.3" fill="#98f598"/>
<rect x="214.05" y="317.00" width="3.3" height="3.3" fill="#98f598"/>
<rect x="219.05" y="319.50" width="3.3" height="3.3" fill="#98f598"/>
<rect x="223.95" y="319.50" width="3.3" height="3.3" fill="#98f598"/>
<rect x="223.95" y="326.20" width="3.3" height="3.3" fill="#98f598"/>
<rect x="219.05" y="337.40" width="3.3" height="3.3" fill="#98f598"/>
<rect x="214.05" y="339.70" width="3.3" height="3.3" fill="#98f598"/>
<rect x="229.05" y="339.70" width="3.3" height="3.3" fill="#98f598"/>
<rect x="219.05" y="341.70" width="3.3" height="3.3" fill="#98f598"/>
<rect x="223.95" y="341.70" width="3.3" height="3.3" fill="#98f598"/>
<rect x="219.05" y="349.70" width="3.3" height="3.3" fill="#98f598"/>
<rect x="223.95" y="349.70" width="3.3" height="3.3" fill="#98f598"/>
<rect x="223.95" y="354.00" width="3.3" height="3.3" fill="#98f598"/>
<rect x="223.95" y="358.00" width="3.3" height="3.3" fill="#98f598"/>
<rect x="219.05" y="362.40" width="3.3" height="3.3" fill="#98f598"/>
<rect x="219.05" y="363.40" width="3.3" height="3.3" fill="#98f598"/>
<rect x="221.65" y="379.20" width="3.3" height="3.3" fill="#98f598"/>
<rect x="219.05" y="395.10" width="3.3" height="3.3" fill="#98f598"/>
<rect x="223.95" y="395.10" width="3.3" height="3.3" fill="#98f598"/>
<rect x="214.05" y="432.70" width="3.3" height="3.3" fill="#98f598"/>
<rect x="223.95" y="432.70" width="3.3" height="3.3" fill="#98f598"/>
<rect x="229.05" y="432.70" width="3.3" height="3.3" fill="#98f598"/>
<line x1="223.50" y1="323.40" x2="223.50" y2="380.80" stroke="#1a1a1a" stroke-width="1.2"/>
<line x1="218.80" y1="323.40" x2="227.80" y2="323.40" stroke="#111" stroke-width="1.3"/>
<line x1="218.80" y1="380.80" x2="227.80" y2="380.80" stroke="#111" stroke-width="1.3"/>
<line x1="214.70" y1="343.30" x2="231.90" y2="343.30" stroke="#111" stroke-width="1.3"/>
<path d="M250.10,335.50L252.00,339.00L248.20,339.00Z" fill="#ff9e9e"/>
<path d="M253.70,334.00L255.60,337.50L251.80,337.50Z" fill="#ff9e9e"/>
<path d="M242.50,369.40L244.40,372.90L240.60,372.90Z" fill="#ff9e9e"/>
<path d="M246.30,369.40L248.20,372.90L244.40,372.90Z" fill="#ff9e9e"/>
<path d="M250.10,369.40L252.00,372.90L248.20,372.90Z" fill="#ff9e9e"/>
<path d="M253.90,369.40L255.80,372.90L252.00,372.90Z" fill="#ff9e9e"/>
<path d="M257.70,369.40L259.60,372.90L255.80,372.90Z" fill="#ff9e9e"/>
<path d="M242.50,378.80L244.40,382.30L240.60,382.30Z" fill="#ff9e9e"/>
<path d="M246.30,378.80L248.20,382.30L244.40,382.30Z" fill="#ff9e9e"/>
<path d="M250.10,378.80L252.00,382.30L248.20,382.30Z" fill="#ff9e9e"/>
<path d="M253.90,378.80L255.80,382.30L252.00,382.30Z" fill="#ff9e9e"/>
<path d="M257.70,378.80L259.60,382.30L255.80,382.30Z" fill="#ff9e9e"/>
<path d="M250.10,395.20L252.00,398.70L248.20,398.70Z" fill="#ff9e9e"/>
<path d="M254.00,395.20L255.90,398.70L252.10,398.70Z" fill="#ff9e9e"/>
<path d="M246.30,432.30L248.20,435.80L244.40,435.80Z" fill="#ff9e9e"/>
<path d="M253.70,432.30L255.60,435.80L251.80,435.80Z" fill="#ff9e9e"/>
<line x1="250.50" y1="371.40" x2="250.50" y2="391.50" stroke="#1a1a1a" stroke-width="1.2"/>
<line x1="245.60" y1="371.40" x2="254.60" y2="371.40" stroke="#111" stroke-width="1.3"/>
<line x1="245.60" y1="391.50" x2="254.60" y2="391.50" stroke="#111" stroke-width="1.3"/>
<line x1="241.50" y1="380.80" x2="258.70" y2="380.80" stroke="#111" stroke-width="1.3"/>
<path d="M274.40,325.70L276.30,322.20L272.50,322.20Z" fill="#ffbb78"/>
<path d="M269.30,357.20L271.20,353.70L267.40,353.70Z" fill="#ffbb78"/>
<path d="M284.30,357.20L286.20,353.70L282.40,353.70Z" fill="#ffbb78"/>
<path d="M269.30,373.10L271.20,369.60L267.40,369.60Z" fill="#ffbb78"/>
<path d="M274.40,373.10L276.30,369.60L272.50,369.60Z" fill="#ffbb78"/>
<path d="M284.30,373.10L286.20,369.60L282.40,369.60Z" fill="#ffbb78"/>
<path d="M269.30,398.70L271.20,395.20L267.40,395.20Z" fill="#ffbb78"/>
<path d="M273.00,398.70L274.90,395.20L271.10,395.20Z" fill="#ffbb78"/>
<path d="M276.70,398.70L278.60,395.20L274.80,395.20Z" fill="#ffbb78"/>
<path d="M280.40,398.70L282.30,395.20L278.50,395.20Z" fill="#ffbb78"/>
<path d="M284.10,398.70L286.00,395.20L282.20,395.20Z" fill="#ffbb78"/>
<path d="M269.27,436.30L271.17,432.80L267.38,432.80Z" fill="#ffbb78"/>
<path d="M274.22,436.30L276.12,432.80L272.32,432.80Z" fill="#ffbb78"/>
<path d="M279.18,436.30L281.07,432.80L277.28,432.80Z" fill="#ffbb78"/>
<path d="M284.12,436.30L286.02,432.80L282.23,432.80Z" fill="#ffbb78"/>
<line x1="276.50" y1="355.30" x2="276.50" y2="434.30" stroke="#1a1a1a" stroke-width="1.2"/>
<line x1="272.20" y1="355.30" x2="281.20" y2="355.30" stroke="#111" stroke-width="1.3"/>
<line x1="272.20" y1="434.30" x2="281.20" y2="434.30" stroke="#111" stroke-width="1.3"/>
<line x1="268.10" y1="396.70" x2="285.30" y2="396.70" stroke="#111" stroke-width="1.3"/>
<circle cx="395.50" cy="349.70" r="1.75" fill="#7fb4f5"/>
<circle cx="393.20" cy="359.40" r="1.75" fill="#7fb4f5"/>
<circle cx="395.50" cy="358.30" r="1.75" fill="#7fb4f5"/>
<circle cx="398.10" cy="359.40" r="1.75" fill="#7fb4f5"/>
<circle cx="393.20" cy="386.60" r="1.75" fill="#7fb4f5"/>
<circle cx="398.10" cy="386.60" r="1.75" fill="#7fb4f5"/>
<circle cx="393.00" cy="393.50" r="1.75" fill="#7fb4f5"/>
<circle cx="395.50" cy="393.50" r="1.75" fill="#7fb4f5"/>
<circle cx="398.00" cy="393.50" r="1.75" fill="#7fb4f5"/>
<circle cx="388.10" cy="403.00" r="1.75" fill="#7fb4f5"/>
<circle cx="391.80" cy="403.00" r="1.75" fill="#7fb4f5"/>
<circle cx="395.50" cy="403.00" r="1.75" fill="#7fb4f5"/>
<circle cx="399.20" cy="403.00" r="1.75" fill="#7fb4f5"/>
<circle cx="402.90" cy="403.00" r="1.75" fill="#7fb4f5"/>
<circle cx="393.20" cy="419.10" r="1.75" fill="#7fb4f5"/>
<circle cx="398.10" cy="419.10" r="1.75" fill="#7fb4f5"/>
<circle cx="387.50" cy="435.50" r="1.75" fill="#7fb4f5"/>
<circle cx="390.70" cy="435.50" r="1.75" fill="#7fb4f5"/>
<circle cx="393.90" cy="435.50" r="1.75" fill="#7fb4f5"/>
<circle cx="397.10" cy="435.50" r="1.75" fill="#7fb4f5"/>
<circle cx="400.30" cy="435.50" r="1.75" fill="#7fb4f5"/>
<circle cx="403.50" cy="435.50" r="1.75" fill="#7fb4f5"/>
<line x1="395.50" y1="388.30" x2="395.50" y2="435.30" stroke="#1a1a1a" stroke-width="1.2"/>
<line x1="391.00" y1="388.30" x2="400.00" y2="388.30" stroke="#111" stroke-width="1.3"/>
<line x1="391.00" y1="435.30" x2="400.00" y2="435.30" stroke="#111" stroke-width="1.3"/>
<line x1="386.90" y1="402.80" x2="404.10" y2="402.80" stroke="#111" stroke-width="1.3"/>
<rect x="422.55" y="351.90" width="3.3" height="3.3" fill="#98f598"/>
<rect x="419.15" y="366.40" width="3.3" height="3.3" fill="#98f598"/>
<rect x="419.15" y="375.60" width="3.3" height="3.3" fill="#98f598"/>
<rect x="419.15" y="379.80" width="3.3" height="3.3" fill="#98f598"/>
<rect x="416.95" y="384.80" width="3.3" height="3.3" fill="#98f598"/>
<rect x="420.65" y="384.80" width="3.3" height="3.3" fill="#98f598"/>
<rect x="424.35" y="384.80" width="3.3" height="3.3" fill="#98f598"/>
<rect x="416.95" y="391.70" width="3.3" height="3.3" fill="#98f598"/>
<rect x="420.65" y="391.70" width="3.3" height="3.3" fill="#98f598"/>
<rect x="424.35" y="391.70" width="3.3" height="3.3" fill="#98f598"/>
<rect x="415.10" y="401.40" width="3.3" height="3.3" fill="#98f598"/>
<rect x="418.80" y="401.40" width="3.3" height="3.3" fill="#98f598"/>
<rect x="422.50" y="401.40" width="3.3" height="3.3" fill="#98f598"/>
<rect x="426.20" y="401.40" width="3.3" height="3.3" fill="#98f598"/>
<rect x="413.75" y="417.30" width="3.3" height="3.3" fill="#98f598"/>
<rect x="417.45" y="417.30" width="3.3" height="3.3" fill="#98f598"/>
<rect x="424.35" y="417.30" width="3.3" height="3.3" fill="#98f598"/>
<rect x="427.95" y="417.30" width="3.3" height="3.3" fill="#98f598"/>
<rect x="413.40" y="433.70" width="3.3" height="3.3" fill="#98f598"/>
<rect x="416.30" y="433.70" width="3.3" height="3.3" fill="#98f598"/>
<rect x="419.20" y="433.70" width="3.3" height="3.3" fill="#98f598"/>
<rect x="422.10" y="433.70" width="3.3" height="3.3" fill="#98f598"/>
<rect x="425.00" y="433.70" width="3.3" height="3.3" fill="#98f598"/>
<rect x="427.90" y="433.70" width="3.3" height="3.3" fill="#98f598"/>
<line x1="422.50" y1="386.40" x2="422.50" y2="425.40" stroke="#1a1a1a" stroke-width="1.2"/>
<line x1="417.80" y1="386.40" x2="426.80" y2="386.40" stroke="#111" stroke-width="1.3"/>
<line x1="417.80" y1="425.40" x2="426.80" y2="425.40" stroke="#111" stroke-width="1.3"/>
<line x1="413.70" y1="403.00" x2="430.90" y2="403.00" stroke="#111" stroke-width="1.3"/>
<path d="M450.70,366.40L452.60,369.90L448.80,369.90Z" fill="#ff9e9e"/>
<path d="M447.60,384.80L449.50,388.30L445.70,388.30Z" fill="#ff9e9e"/>
<path d="M447.60,391.30L449.50,394.80L445.70,394.80Z" fill="#ff9e9e"/>
<path d="M450.70,391.30L452.60,394.80L448.80,394.80Z" fill="#ff9e9e"/>
<path d="M447.60,401.20L449.50,404.70L445.70,404.70Z" fill="#ff9e9e"/>
<path d="M442.20,417.20L444.10,420.70L440.30,420.70Z" fill="#ff9e9e"/>
<path d="M445.90,417.20L447.80,420.70L444.00,420.70Z" fill="#ff9e9e"/>
<path d="M449.60,417.20L451.50,420.70L447.70,420.70Z" fill="#ff9e9e"/>
<path d="M453.30,417.20L455.20,420.70L451.40,420.70Z" fill="#ff9e9e"/>
<path d="M457.00,417.20L458.90,420.70L455.10,420.70Z" fill="#ff9e9e"/>
<path d="M444.20,433.30L446.10,436.80L442.30,436.80Z" fill="#ff9e9e"/>
<path d="M447.80,433.30L449.70,436.80L445.90,436.80Z" fill="#ff9e9e"/>
<path d="M451.40,433.30L453.30,436.80L449.50,436.80Z" fill="#ff9e9e"/>
<path d="M455.00,433.30L456.90,436.80L453.10,436.80Z" fill="#ff9e9e"/>
<line x1="449.50" y1="395.20" x2="449.50" y2="435.30" stroke="#1a1a1a" stroke-width="1.2"/>
<line x1="445.10" y1="395.20" x2="454.10" y2="395.20" stroke="#111" stroke-width="1.3"/>
<line x1="445.10" y1="435.30" x2="454.10" y2="435.30" stroke="#111" stroke-width="1.3"/>
<line x1="441.00" y1="419.20" x2="458.20" y2="419.20" stroke="#111" stroke-width="1.3"/>
<path d="M476.00,366.50L477.90,363.00L474.10,363.00Z" fill="#ffbb78"/>
<path d="M476.00,372.30L477.90,368.80L474.10,368.80Z" fill="#ffbb78"/>
<path d="M476.00,395.20L477.90,391.70L474.10,391.70Z" fill="#ffbb78"/>
<path d="M476.00,404.10L477.90,400.60L474.10,400.60Z" fill="#ffbb78"/>
<path d="M473.70,421.20L475.60,417.70L471.80,417.70Z" fill="#ffbb78"/>
<path d="M478.30,421.20L480.20,417.70L476.40,417.70Z" fill="#ffbb78"/>
<path d="M468.00,437.30L469.90,433.80L466.10,433.80Z" fill="#ffbb78"/>
<path d="M471.20,437.30L473.10,433.80L469.30,433.80Z" fill="#ffbb78"/>
<path d="M474.40,437.30L476.30,433.80L472.50,433.80Z" fill="#ffbb78"/>
<path d="M477.60,437.30L479.50,433.80L475.70,433.80Z" fill="#ffbb78"/>
<path d="M480.80,437.30L482.70,433.80L478.90,433.80Z" fill="#ffbb78"/>
<path d="M484.00,437.30L485.90,433.80L482.10,433.80Z" fill="#ffbb78"/>
<line x1="476.50" y1="393.20" x2="476.50" y2="435.30" stroke="#1a1a1a" stroke-width="1.2"/>
<line x1="471.50" y1="393.20" x2="480.50" y2="393.20" stroke="#111" stroke-width="1.3"/>
<line x1="471.50" y1="435.30" x2="480.50" y2="435.30" stroke="#111" stroke-width="1.3"/>
<line x1="467.40" y1="419.20" x2="484.60" y2="419.20" stroke="#111" stroke-width="1.3"/>
<circle cx="521.50" cy="346.30" r="1.75" fill="#7fb4f5"/>
<circle cx="519.50" cy="353.70" r="1.75" fill="#7fb4f5"/>
<circle cx="521.50" cy="359.80" r="1.75" fill="#7fb4f5"/>
<circle cx="521.50" cy="365.50" r="1.75" fill="#7fb4f5"/>
<circle cx="519.50" cy="368.20" r="1.75" fill="#7fb4f5"/>
<circle cx="521.50" cy="370.90" r="1.75" fill="#7fb4f5"/>
<circle cx="520.70" cy="393.50" r="1.75" fill="#7fb4f5"/>
<circle cx="519.00" cy="403.00" r="1.75" fill="#7fb4f5"/>
<circle cx="522.60" cy="403.00" r="1.75" fill="#7fb4f5"/>
<circle cx="519.00" cy="419.10" r="1.75" fill="#7fb4f5"/>
<circle cx="522.60" cy="419.10" r="1.75" fill="#7fb4f5"/>
<circle cx="512.70" cy="435.50" r="1.75" fill="#7fb4f5"/>
<circle cx="515.90" cy="435.50" r="1.75" fill="#7fb4f5"/>
<circle cx="519.10" cy="435.50" r="1.75" fill="#7fb4f5"/>
<circle cx="522.30" cy="435.50" r="1.75" fill="#7fb4f5"/>
<circle cx="525.50" cy="435.50" r="1.75" fill="#7fb4f5"/>
<circle cx="528.70" cy="435.50" r="1.75" fill="#7fb4f5"/>
<line x1="520.50" y1="374.50" x2="520.50" y2="435.30" stroke="#1a1a1a" stroke-width="1.2"/>
<line x1="516.20" y1="374.50" x2="525.20" y2="374.50" stroke="#111" stroke-width="1.3"/>
<line x1="516.20" y1="435.30" x2="525.20" y2="435.30" stroke="#111" stroke-width="1.3"/>
<line x1="512.10" y1="418.90" x2="529.30" y2="418.90" stroke="#111" stroke-width="1.3"/>
<rect x="545.85" y="307.50" width="3.3" height="3.3" fill="#98f598"/>
<rect x="545.85" y="320.10" width="3.3" height="3.3" fill="#98f598"/>
<rect x="545.85" y="323.90" width="3.3" height="3.3" fill="#98f598"/>
<rect x="545.85" y="328.20" width="3.3" height="3.3" fill="#98f598"/>
<rect x="545.85" y="333.90" width="3.3" height="3.3" fill="#98f598"/>
<rect x="542.05" y="337.70" width="3.3" height="3.3" fill="#98f598"/>
<rect x="542.05" y="343.50" width="3.3" height="3.3" fill="#98f598"/>
<rect x="545.85" y="342.70" width="3.3" height="3.3" fill="#98f598"/>
<rect x="545.85" y="356.50" width="3.3" height="3.3" fill="#98f598"/>
<rect x="545.85" y="366.40" width="3.3" height="3.3" fill="#98f598"/>
<rect x="538.55" y="368.70" width="3.3" height="3.3" fill="#98f598"/>
<rect x="552.35" y="368.70" width="3.3" height="3.3" fill="#98f598"/>
<rect x="542.05" y="372.10" width="3.3" height="3.3" fill="#98f598"/>
<rect x="545.85" y="372.10" width="3.3" height="3.3" fill="#98f598"/>
<rect x="549.25" y="372.10" width="3.3" height="3.3" fill="#98f598"/>
<rect x="545.85" y="379.80" width="3.3" height="3.3" fill="#98f598"/>
<rect x="545.85" y="391.70" width="3.3" height="3.3" fill="#98f598"/>
<rect x="545.85" y="401.20" width="3.3" height="3.3" fill="#98f598"/>
<rect x="549.95" y="401.20" width="3.3" height="3.3" fill="#98f598"/>
<rect x="542.05" y="417.30" width="3.3" height="3.3" fill="#98f598"/>
<rect x="549.25" y="417.30" width="3.3" height="3.3" fill="#98f598"/>
<rect x="542.05" y="433.70" width="3.3" height="3.3" fill="#98f598"/>
<rect x="549.25" y="433.70" width="3.3" height="3.3" fill="#98f598"/>
<line x1="547.50" y1="341.50" x2="547.50" y2="397.80" stroke="#1a1a1a" stroke-width="1.2"/>
<line x1="543.00" y1="341.50" x2="552.00" y2="341.50" stroke="#111" stroke-width="1.3"/>
<line x1="543.00" y1="397.80" x2="552.00" y2="397.80" stroke="#111" stroke-width="1.3"/>
<line x1="538.90" y1="373.70" x2="556.10" y2="373.70" stroke="#111" stroke-width="1.3"/>
<path d="M573.10,375.60L575.00,379.10L571.20,379.10Z" fill="#ff9e9e"/>
<path d="M573.10,379.70L575.00,383.20L571.20,383.20Z" fill="#ff9e9e"/>
<path d="M575.00,391.60L576.90,395.10L573.10,395.10Z" fill="#ff9e9e"/>
<path d="M573.10,400.80L575.00,404.30L571.20,404.30Z" fill="#ff9e9e"/>
<path d="M565.95,417.20L567.85,420.70L564.05,420.70Z" fill="#ff9e9e"/>
<path d="M569.25,417.20L571.15,420.70L567.35,420.70Z" fill="#ff9e9e"/>
<path d="M572.55,417.20L574.45,420.70L570.65,420.70Z" fill="#ff9e9e"/>
<path d="M575.85,417.20L577.75,420.70L573.95,420.70Z" fill="#ff9e9e"/>
<path d="M579.15,417.20L581.05,420.70L577.25,420.70Z" fill="#ff9e9e"/>
<path d="M582.45,417.20L584.35,420.70L580.55,420.70Z" fill="#ff9e9e"/>
<path d="M571.20,433.30L573.10,436.80L569.30,436.80Z" fill="#ff9e9e"/>
<path d="M574.20,433.30L576.10,436.80L572.30,436.80Z" fill="#ff9e9e"/>
<path d="M577.20,433.30L579.10,436.80L575.30,436.80Z" fill="#ff9e9e"/>
<line x1="574.50" y1="406.20" x2="574.50" y2="429.70" stroke="#1a1a1a" stroke-width="1.2"/>
<line x1="569.70" y1="406.20" x2="578.70" y2="406.20" stroke="#111" stroke-width="1.3"/>
<line x1="569.70" y1="429.70" x2="578.70" y2="429.70" stroke="#111" stroke-width="1.3"/>
<line x1="565.60" y1="419.20" x2="582.80" y2="419.20" stroke="#111" stroke-width="1.3"/>
<path d="M598.40,369.60L600.30,366.10L596.50,366.10Z" fill="#ffbb78"/>
<path d="M603.30,369.60L605.20,366.10L601.40,366.10Z" fill="#ffbb78"/>
<path d="M603.30,375.00L605.20,371.50L601.40,371.50Z" fill="#ffbb78"/>
<path d="M593.30,388.80L595.20,385.30L591.40,385.30Z" fill="#ffbb78"/>
<path d="M597.00,388.80L598.90,385.30L595.10,385.30Z" fill="#ffbb78"/>
<path d="M600.70,388.80L602.60,385.30L598.80,385.30Z" fill="#ffbb78"/>
<path d="M604.40,388.80L606.30,385.30L602.50,385.30Z" fill="#ffbb78"/>
<path d="M608.10,388.80L610.00,385.30L606.20,385.30Z" fill="#ffbb78"/>
<path d="M598.40,395.30L600.30,391.80L596.50,391.80Z" fill="#ffbb78"/>
<path d="M593.30,404.50L595.20,401.00L591.40,401.00Z" fill="#ffbb78"/>
<path d="M600.70,404.50L602.60,401.00L598.80,401.00Z" fill="#ffbb78"/>
<path d="M608.30,404.50L610.20,401.00L606.40,401.00Z" fill="#ffbb78"/>
<path d="M598.40,437.30L600.30,433.80L596.50,433.80Z" fill="#ffbb78"/>
<line x1="600.50" y1="377.20" x2="600.50" y2="402.50" stroke="#1a1a1a" stroke-width="1.2"/>
<line x1="596.20" y1="377.20" x2="605.20" y2="377.20" stroke="#111" stroke-width="1.3"/>
<line x1="596.20" y1="402.50" x2="605.20" y2="402.50" stroke="#111" stroke-width="1.3"/>
<line x1="592.10" y1="386.80" x2="609.30" y2="386.80" stroke="#111" stroke-width="1.3"/>
<path d="M518.00,283.50V275.50H547.60V283.50" fill="none" stroke="#222" stroke-width="1.1"/>
<polygon points="530.10,265.80 530.76,267.39 532.48,267.53 531.17,268.65 531.57,270.32 530.10,269.43 528.63,270.32 529.03,268.65 527.72,267.53 529.44,267.39" fill="#111"/>
<polygon points="535.10,265.80 535.76,267.39 537.48,267.53 536.17,268.65 536.57,270.32 535.10,269.43 533.63,270.32 534.03,268.65 532.72,267.53 534.44,267.39" fill="#111"/>
<path d="M574.10,283.50V275.50H603.60V283.50" fill="none" stroke="#222" stroke-width="1.1"/>
<polygon points="586.30,265.80 586.96,267.39 588.68,267.53 587.37,268.65 587.77,270.32 586.30,269.43 584.83,270.32 585.23,268.65 583.92,267.53 585.64,267.39" fill="#111"/>
<polygon points="591.30,265.80 591.96,267.39 593.68,267.53 592.37,268.65 592.77,270.32 591.30,269.43 589.83,270.32 590.23,268.65 588.92,267.53 590.64,267.39" fill="#111"/>
<circle cx="68.90" cy="542.90" r="1.75" fill="#7fb4f5"/>
<circle cx="73.70" cy="576.70" r="1.75" fill="#7fb4f5"/>
<circle cx="73.70" cy="580.50" r="1.75" fill="#7fb4f5"/>
<circle cx="73.70" cy="584.80" r="1.75" fill="#7fb4f5"/>
<circle cx="64.20" cy="590.10" r="1.75" fill="#7fb4f5"/>
<circle cx="78.60" cy="590.10" r="1.75" fill="#7fb4f5"/>
<circle cx="68.90" cy="593.20" r="1.75" fill="#7fb4f5"/>
<circle cx="73.70" cy="593.20" r="1.75" fill="#7fb4f5"/>
<circle cx="73.70" cy="596.80" r="1.75" fill="#7fb4f5"/>
<circle cx="73.70" cy="600.90" r="1.75" fill="#7fb4f5"/>
<circle cx="64.30" cy="606.10" r="1.75" fill="#7fb4f5"/>
<circle cx="69.10" cy="606.10" r="1.75" fill="#7fb4f5"/>
<circle cx="73.90" cy="606.10" r="1.75" fill="#7fb4f5"/>
<circle cx="78.70" cy="606.10" r="1.75" fill="#7fb4f5"/>
<circle cx="68.90" cy="612.70" r="1.75" fill="#7fb4f5"/>
<circle cx="73.70" cy="612.70" r="1.75" fill="#7fb4f5"/>
<circle cx="68.90" cy="622.20" r="1.75" fill="#7fb4f5"/>
<circle cx="73.70" cy="622.20" r="1.75" fill="#7fb4f5"/>
<circle cx="68.90" cy="638.50" r="1.75" fill="#7fb4f5"/>
<circle cx="73.70" cy="638.50" r="1.75" fill="#7fb4f5"/>
<circle cx="64.30" cy="675.60" r="1.75" fill="#7fb4f5"/>
<circle cx="69.10" cy="675.60" r="1.75" fill="#7fb4f5"/>
<circle cx="73.90" cy="675.60" r="1.75" fill="#7fb4f5"/>
<circle cx="78.70" cy="675.60" r="1.75" fill="#7fb4f5"/>
<line x1="71.50" y1="590.60" x2="71.50" y2="632.80" stroke="#1a1a1a" stroke-width="1.2"/>
<line x1="67.00" y1="590.60" x2="76.00" y2="590.60" stroke="#111" stroke-width="1.3"/>
<line x1="67.00" y1="632.80" x2="76.00" y2="632.80" stroke="#111" stroke-width="1.3"/>
<line x1="62.90" y1="605.90" x2="80.10" y2="605.90" stroke="#111" stroke-width="1.3"/>
<rect x="96.75" y="571.90" width="3.3" height="3.3" fill="#98f598"/>
<rect x="96.75" y="576.80" width="3.3" height="3.3" fill="#98f598"/>
<rect x="94.15" y="580.50" width="3.3" height="3.3" fill="#98f598"/>
<rect x="99.35" y="580.50" width="3.3" height="3.3" fill="#98f598"/>
<rect x="96.75" y="583.20" width="3.3" height="3.3" fill="#98f598"/>
<rect x="94.15" y="588.00" width="3.3" height="3.3" fill="#98f598"/>
<rect x="94.15" y="591.70" width="3.3" height="3.3" fill="#98f598"/>
<rect x="99.35" y="591.70" width="3.3" height="3.3" fill="#98f598"/>
<rect x="94.15" y="595.40" width="3.3" height="3.3" fill="#98f598"/>
<rect x="99.35" y="595.40" width="3.3" height="3.3" fill="#98f598"/>
<rect x="91.55" y="604.30" width="3.3" height="3.3" fill="#98f598"/>
<rect x="96.75" y="604.30" width="3.3" height="3.3" fill="#98f598"/>
<rect x="101.95" y="604.30" width="3.3" height="3.3" fill="#98f598"/>
<rect x="94.95" y="620.40" width="3.3" height="3.3" fill="#98f598"/>
<rect x="98.55" y="620.40" width="3.3" height="3.3" fill="#98f598"/>
<rect x="89.50" y="673.80" width="3.3" height="3.3" fill="#98f598"/>
<rect x="92.40" y="673.80" width="3.3" height="3.3" fill="#98f598"/>
<rect x="95.30" y="673.80" width="3.3" height="3.3" fill="#98f598"/>
<rect x="98.20" y="673.80" width="3.3" height="3.3" fill="#98f598"/>
<rect x="101.10" y="673.80" width="3.3" height="3.3" fill="#98f598"/>
<rect x="104.00" y="673.80" width="3.3" height="3.3" fill="#98f598"/>
<line x1="98.50" y1="591.30" x2="98.50" y2="675.40" stroke="#1a1a1a" stroke-width="1.2"/>
<line x1="93.90" y1="591.30" x2="102.90" y2="591.30" stroke="#111" stroke-width="1.3"/>
<line x1="93.90" y1="675.40" x2="102.90" y2="675.40" stroke="#111" stroke-width="1.3"/>
<line x1="89.80" y1="605.90" x2="107.00" y2="605.90" stroke="#111" stroke-width="1.3"/>
<path d="M125.10,576.70L127.00,580.20L123.20,580.20Z" fill="#ff9e9e"/>
<path d="M122.70,598.80L124.60,602.30L120.80,602.30Z" fill="#ff9e9e"/>
<path d="M127.50,598.80L129.40,602.30L125.60,602.30Z" fill="#ff9e9e"/>
<path d="M125.10,604.50L127.00,608.00L123.20,608.00Z" fill="#ff9e9e"/>
<path d="M125.10,611.10L127.00,614.60L123.20,614.60Z" fill="#ff9e9e"/>
<path d="M119.70,620.00L121.60,623.50L117.80,623.50Z" fill="#ff9e9e"/>
<path d="M123.30,620.00L125.20,623.50L121.40,623.50Z" fill="#ff9e9e"/>
<path d="M126.90,620.00L128.80,623.50L125.00,623.50Z" fill="#ff9e9e"/>
<path d="M130.50,620.00L132.40,623.50L128.60,623.50Z" fill="#ff9e9e"/>
<path d="M117.10,673.40L119.00,676.90L115.20,676.90Z" fill="#ff9e9e"/>
<path d="M120.30,673.40L122.20,676.90L118.40,676.90Z" fill="#ff9e9e"/>
<path d="M123.50,673.40L125.40,676.90L121.60,676.90Z" fill="#ff9e9e"/>
<path d="M126.70,673.40L128.60,676.90L124.80,676.90Z" fill="#ff9e9e"/>
<path d="M129.90,673.40L131.80,676.90L128.00,676.90Z" fill="#ff9e9e"/>
<path d="M133.10,673.40L135.00,676.90L131.20,676.90Z" fill="#ff9e9e"/>
<line x1="125.50" y1="607.10" x2="125.50" y2="675.40" stroke="#1a1a1a" stroke-width="1.2"/>
<line x1="120.60" y1="607.10" x2="129.60" y2="607.10" stroke="#111" stroke-width="1.3"/>
<line x1="120.60" y1="675.40" x2="129.60" y2="675.40" stroke="#111" stroke-width="1.3"/>
<line x1="116.50" y1="622.00" x2="133.70" y2="622.00" stroke="#111" stroke-width="1.3"/>
<path d="M153.50,598.30L155.40,594.80L151.60,594.80Z" fill="#ffbb78"/>
<path d="M150.40,607.70L152.30,604.20L148.50,604.20Z" fill="#ffbb78"/>
<path d="M153.50,614.20L155.40,610.70L151.60,610.70Z" fill="#ffbb78"/>
<path d="M148.20,624.00L150.10,620.50L146.30,620.50Z" fill="#ffbb78"/>
<path d="M155.60,624.00L157.50,620.50L153.70,620.50Z" fill="#ffbb78"/>
<path d="M144.50,640.00L146.40,636.50L142.60,636.50Z" fill="#ffbb78"/>
<path d="M148.20,640.00L150.10,636.50L146.30,636.50Z" fill="#ffbb78"/>
<path d="M151.90,640.00L153.80,636.50L150.00,636.50Z" fill="#ffbb78"/>
<path d="M155.60,640.00L157.50,636.50L153.70,636.50Z" fill="#ffbb78"/>
<path d="M159.30,640.00L161.20,636.50L157.40,636.50Z" fill="#ffbb78"/>
<path d="M147.90,677.40L149.80,673.90L146.00,673.90Z" fill="#ffbb78"/>
<path d="M153.50,677.40L155.40,673.90L151.60,673.90Z" fill="#ffbb78"/>
<path d="M156.80,677.40L158.70,673.90L154.90,673.90Z" fill="#ffbb78"/>
<line x1="151.50" y1="622.00" x2="151.50" y2="638.00" stroke="#1a1a1a" stroke-width="1.2"/>
<line x1="147.40" y1="622.00" x2="156.40" y2="622.00" stroke="#111" stroke-width="1.3"/>
<line x1="147.40" y1="638.00" x2="156.40" y2="638.00" stroke="#111" stroke-width="1.3"/>
<line x1="143.30" y1="638.00" x2="160.50" y2="638.00" stroke="#111" stroke-width="1.3"/>
<circle cx="196.20" cy="566.40" r="1.75" fill="#7fb4f5"/>
<circle cx="192.70" cy="582.50" r="1.75" fill="#7fb4f5"/>
<circle cx="199.90" cy="582.50" r="1.75" fill="#7fb4f5"/>
<circle cx="199.90" cy="589.90" r="1.75" fill="#7fb4f5"/>
<circle cx="196.20" cy="590.70" r="1.75" fill="#7fb4f5"/>
<circle cx="196.20" cy="592.90" r="1.75" fill="#7fb4f5"/>
<circle cx="196.20" cy="601.70" r="1.75" fill="#7fb4f5"/>
<circle cx="196.20" cy="606.00" r="1.75" fill="#7fb4f5"/>
<circle cx="196.20" cy="612.90" r="1.75" fill="#7fb4f5"/>
<circle cx="188.50" cy="622.10" r="1.75" fill="#7fb4f5"/>
<circle cx="192.50" cy="622.10" r="1.75" fill="#7fb4f5"/>
<circle cx="196.50" cy="622.10" r="1.75" fill="#7fb4f5"/>
<circle cx="200.50" cy="622.10" r="1.75" fill="#7fb4f5"/>
<circle cx="204.50" cy="622.10" r="1.75" fill="#7fb4f5"/>
<circle cx="188.50" cy="638.50" r="1.75" fill="#7fb4f5"/>
<circle cx="192.50" cy="638.50" r="1.75" fill="#7fb4f5"/>
<circle cx="196.50" cy="638.50" r="1.75" fill="#7fb4f5"/>
<circle cx="200.50" cy="638.50" r="1.75" fill="#7fb4f5"/>
<circle cx="204.50" cy="638.50" r="1.75" fill="#7fb4f5"/>
<circle cx="188.50" cy="675.60" r="1.75" fill="#7fb4f5"/>
<circle cx="191.70" cy="675.60" r="1.75" fill="#7fb4f5"/>
<circle cx="194.90" cy="675.60" r="1.75" fill="#7fb4f5"/>
<circle cx="198.10" cy="675.60" r="1.75" fill="#7fb4f5"/>
<circle cx="201.30" cy="675.60" r="1.75" fill="#7fb4f5"/>
<circle cx="204.50" cy="675.60" r="1.75" fill="#7fb4f5"/>
<line x1="196.50" y1="597.40" x2="196.50" y2="638.30" stroke="#1a1a1a" stroke-width="1.2"/>
<line x1="192.00" y1="597.40" x2="201.00" y2="597.40" stroke="#111" stroke-width="1.3"/>
<line x1="192.00" y1="638.30" x2="201.00" y2="638.30" stroke="#111" stroke-width="1.3"/>
<line x1="187.90" y1="621.90" x2="205.10" y2="621.90" stroke="#111" stroke-width="1.3"/>
<rect x="223.95" y="550.20" width="3.3" height="3.3" fill="#98f598"/>
<rect x="219.05" y="562.50" width="3.3" height="3.3" fill="#98f598"/>
<rect x="219.05" y="567.70" width="3.3" height="3.3" fill="#98f598"/>
<rect x="219.05" y="572.00" width="3.3" height="3.3" fill="#98f598"/>
<rect x="223.95" y="570.40" width="3.3" height="3.3" fill="#98f598"/>
<rect x="223.95" y="574.60" width="3.3" height="3.3" fill="#98f598"/>
<rect x="219.05" y="576.90" width="3.3" height="3.3" fill="#98f598"/>
<rect x="223.95" y="578.60" width="3.3" height="3.3" fill="#98f598"/>
<rect x="223.95" y="582.70" width="3.3" height="3.3" fill="#98f598"/>
<rect x="223.95" y="591.10" width="3.3" height="3.3" fill="#98f598"/>
<rect x="223.95" y="591.20" width="3.3" height="3.3" fill="#98f598"/>
<rect x="214.05" y="594.70" width="3.3" height="3.3" fill="#98f598"/>
<rect x="219.05" y="597.70" width="3.3" height="3.3" fill="#98f598"/>
<rect x="223.95" y="597.70" width="3.3" height="3.3" fill="#98f598"/>
<rect x="229.05" y="597.70" width="3.3" height="3.3" fill="#98f598"/>
<rect x="219.05" y="603.70" width="3.3" height="3.3" fill="#98f598"/>
<rect x="214.05" y="611.10" width="3.3" height="3.3" fill="#98f598"/>
<rect x="219.05" y="611.10" width="3.3" height="3.3" fill="#98f598"/>
<rect x="229.05" y="611.10" width="3.3" height="3.3" fill="#98f598"/>
<rect x="219.05" y="620.30" width="3.3" height="3.3" fill="#98f598"/>
<rect x="219.05" y="636.70" width="3.3" height="3.3" fill="#98f598"/>
<rect x="223.95" y="636.70" width="3.3" height="3.3" fill="#98f598"/>
<rect x="214.15" y="673.80" width="3.3" height="3.3" fill="#98f598"/>
<rect x="219.15" y="673.80" width="3.3" height="3.3" fill="#98f598"/>
<rect x="224.15" y="673.80" width="3.3" height="3.3" fill="#98f598"/>
<rect x="229.15" y="673.80" width="3.3" height="3.3" fill="#98f598"/>
<line x1="223.50" y1="577.70" x2="223.50" y2="628.30" stroke="#1a1a1a" stroke-width="1.2"/>
<line x1="218.80" y1="577.70" x2="227.80" y2="577.70" stroke="#111" stroke-width="1.3"/>
<line x1="218.80" y1="628.30" x2="227.80" y2="628.30" stroke="#111" stroke-width="1.3"/>
<line x1="214.70" y1="600.40" x2="231.90" y2="600.40" stroke="#111" stroke-width="1.3"/>
<path d="M246.30,604.10L248.20,607.60L244.40,607.60Z" fill="#ff9e9e"/>
<path d="M250.10,604.10L252.00,607.60L248.20,607.60Z" fill="#ff9e9e"/>
<path d="M253.90,604.10L255.80,607.60L252.00,607.60Z" fill="#ff9e9e"/>
<path d="M244.40,610.70L246.30,614.20L242.50,614.20Z" fill="#ff9e9e"/>
<path d="M248.20,610.70L250.10,614.20L246.30,614.20Z" fill="#ff9e9e"/>
<path d="M252.00,610.70L253.90,614.20L250.10,614.20Z" fill="#ff9e9e"/>
<path d="M255.80,610.70L257.70,614.20L253.90,614.20Z" fill="#ff9e9e"/>
<path d="M250.10,620.50L252.00,624.00L248.20,624.00Z" fill="#ff9e9e"/>
<path d="M246.30,636.70L248.20,640.20L244.40,640.20Z" fill="#ff9e9e"/>
<path d="M250.10,636.70L252.00,640.20L248.20,640.20Z" fill="#ff9e9e"/>
<path d="M253.90,636.70L255.80,640.20L252.00,640.20Z" fill="#ff9e9e"/>
<path d="M242.50,673.40L244.40,676.90L240.60,676.90Z" fill="#ff9e9e"/>
<path d="M246.30,673.40L248.20,676.90L244.40,676.90Z" fill="#ff9e9e"/>
<path d="M250.10,673.40L252.00,676.90L248.20,676.90Z" fill="#ff9e9e"/>
<path d="M253.90,673.40L255.80,676.90L252.00,676.90Z" fill="#ff9e9e"/>
<path d="M257.70,673.40L259.60,676.90L255.80,676.90Z" fill="#ff9e9e"/>
<line x1="250.50" y1="612.70" x2="250.50" y2="675.40" stroke="#1a1a1a" stroke-width="1.2"/>
<line x1="245.60" y1="612.70" x2="254.60" y2="612.70" stroke="#111" stroke-width="1.3"/>
<line x1="245.60" y1="675.40" x2="254.60" y2="675.40" stroke="#111" stroke-width="1.3"/>
<line x1="241.50" y1="628.30" x2="258.70" y2="628.30" stroke="#111" stroke-width="1.3"/>
<path d="M276.70,576.80L278.60,573.30L274.80,573.30Z" fill="#ffbb78"/>
<path d="M273.20,588.60L275.10,585.10L271.30,585.10Z" fill="#ffbb78"/>
<path d="M276.70,590.90L278.60,587.40L274.80,587.40Z" fill="#ffbb78"/>
<path d="M277.00,607.60L278.90,604.10L275.10,604.10Z" fill="#ffbb78"/>
<path d="M273.20,623.40L275.10,619.90L271.30,619.90Z" fill="#ffbb78"/>
<path d="M277.00,623.40L278.90,619.90L275.10,619.90Z" fill="#ffbb78"/>
<path d="M269.60,640.30L271.50,636.80L267.70,636.80Z" fill="#ffbb78"/>
<path d="M273.30,640.30L275.20,636.80L271.40,636.80Z" fill="#ffbb78"/>
<path d="M277.00,640.30L278.90,636.80L275.10,636.80Z" fill="#ffbb78"/>
<path d="M280.70,640.30L282.60,636.80L278.80,636.80Z" fill="#ffbb78"/>
<path d="M284.40,640.30L286.30,636.80L282.50,636.80Z" fill="#ffbb78"/>
<path d="M269.30,677.40L271.20,673.90L267.40,673.90Z" fill="#ffbb78"/>
<path d="M277.00,677.40L278.90,673.90L275.10,673.90Z" fill="#ffbb78"/>
<path d="M284.30,677.40L286.20,673.90L282.40,673.90Z" fill="#ffbb78"/>
<line x1="277.50" y1="605.60" x2="277.50" y2="675.40" stroke="#1a1a1a" stroke-width="1.2"/>
<line x1="272.50" y1="605.60" x2="281.50" y2="605.60" stroke="#111" stroke-width="1.3"/>
<line x1="272.50" y1="675.40" x2="281.50" y2="675.40" stroke="#111" stroke-width="1.3"/>
<line x1="268.40" y1="638.30" x2="285.60" y2="638.30" stroke="#111" stroke-width="1.3"/>
<path d="M194.20,532.20V523.30H225.60V532.20" fill="none" stroke="#222" stroke-width="1.1"/>
<polygon points="210.30,513.30 210.96,514.89 212.68,515.03 211.37,516.15 211.77,517.82 210.30,516.92 208.83,517.82 209.23,516.15 207.92,515.03 209.64,514.89" fill="#111"/>
<circle cx="393.50" cy="544.00" r="1.75" fill="#7fb4f5"/>
<circle cx="393.50" cy="548.60" r="1.75" fill="#7fb4f5"/>
<circle cx="398.30" cy="552.10" r="1.75" fill="#7fb4f5"/>
<circle cx="393.50" cy="555.10" r="1.75" fill="#7fb4f5"/>
<circle cx="398.30" cy="557.00" r="1.75" fill="#7fb4f5"/>
<circle cx="388.60" cy="563.40" r="1.75" fill="#7fb4f5"/>
<circle cx="393.50" cy="564.70" r="1.75" fill="#7fb4f5"/>
<circle cx="403.20" cy="562.40" r="1.75" fill="#7fb4f5"/>
<circle cx="388.60" cy="566.90" r="1.75" fill="#7fb4f5"/>
<circle cx="398.30" cy="566.90" r="1.75" fill="#7fb4f5"/>
<circle cx="403.20" cy="566.90" r="1.75" fill="#7fb4f5"/>
<circle cx="393.50" cy="570.00" r="1.75" fill="#7fb4f5"/>
<circle cx="398.30" cy="570.80" r="1.75" fill="#7fb4f5"/>
<circle cx="393.50" cy="577.70" r="1.75" fill="#7fb4f5"/>
<circle cx="393.50" cy="586.90" r="1.75" fill="#7fb4f5"/>
<circle cx="398.30" cy="586.90" r="1.75" fill="#7fb4f5"/>
<circle cx="398.30" cy="619.00" r="1.75" fill="#7fb4f5"/>
<circle cx="393.50" cy="631.60" r="1.75" fill="#7fb4f5"/>
<circle cx="398.30" cy="642.30" r="1.75" fill="#7fb4f5"/>
<circle cx="393.50" cy="646.90" r="1.75" fill="#7fb4f5"/>
<circle cx="393.50" cy="653.40" r="1.75" fill="#7fb4f5"/>
<circle cx="393.50" cy="658.90" r="1.75" fill="#7fb4f5"/>
<line x1="395.50" y1="560.90" x2="395.50" y2="621.10" stroke="#1a1a1a" stroke-width="1.2"/>
<line x1="391.00" y1="560.90" x2="400.00" y2="560.90" stroke="#111" stroke-width="1.3"/>
<line x1="391.00" y1="621.10" x2="400.00" y2="621.10" stroke="#111" stroke-width="1.3"/>
<line x1="386.90" y1="568.40" x2="404.10" y2="568.40" stroke="#111" stroke-width="1.3"/>
<rect x="418.65" y="535.60" width="3.3" height="3.3" fill="#98f598"/>
<rect x="418.65" y="547.50" width="3.3" height="3.3" fill="#98f598"/>
<rect x="423.45" y="549.10" width="3.3" height="3.3" fill="#98f598"/>
<rect x="423.45" y="554.00" width="3.3" height="3.3" fill="#98f598"/>
<rect x="428.35" y="555.20" width="3.3" height="3.3" fill="#98f598"/>
<rect x="413.75" y="559.70" width="3.3" height="3.3" fill="#98f598"/>
<rect x="418.65" y="559.70" width="3.3" height="3.3" fill="#98f598"/>
<rect x="428.35" y="559.70" width="3.3" height="3.3" fill="#98f598"/>
<rect x="418.65" y="566.20" width="3.3" height="3.3" fill="#98f598"/>
<rect x="423.45" y="572.00" width="3.3" height="3.3" fill="#98f598"/>
<rect x="418.65" y="576.60" width="3.3" height="3.3" fill="#98f598"/>
<rect x="418.65" y="581.60" width="3.3" height="3.3" fill="#98f598"/>
<rect x="423.45" y="582.40" width="3.3" height="3.3" fill="#98f598"/>
<rect x="423.45" y="588.10" width="3.3" height="3.3" fill="#98f598"/>
<rect x="423.45" y="591.20" width="3.3" height="3.3" fill="#98f598"/>
<rect x="418.65" y="594.30" width="3.3" height="3.3" fill="#98f598"/>
<rect x="413.75" y="636.70" width="3.3" height="3.3" fill="#98f598"/>
<rect x="413.75" y="640.80" width="3.3" height="3.3" fill="#98f598"/>
<rect x="423.45" y="640.50" width="3.3" height="3.3" fill="#98f598"/>
<rect x="428.35" y="639.40" width="3.3" height="3.3" fill="#98f598"/>
<rect x="418.65" y="673.20" width="3.3" height="3.3" fill="#98f598"/>
<line x1="422.50" y1="559.50" x2="422.50" y2="613.30" stroke="#1a1a1a" stroke-width="1.2"/>
<line x1="417.80" y1="559.50" x2="426.80" y2="559.50" stroke="#111" stroke-width="1.3"/>
<line x1="417.80" y1="613.30" x2="426.80" y2="613.30" stroke="#111" stroke-width="1.3"/>
<line x1="413.70" y1="578.20" x2="430.90" y2="578.20" stroke="#111" stroke-width="1.3"/>
<path d="M451.80,524.90L453.70,528.40L449.90,528.40Z" fill="#ff9e9e"/>
<path d="M446.80,541.00L448.70,544.50L444.90,544.50Z" fill="#ff9e9e"/>
<path d="M451.80,542.80L453.70,546.30L449.90,546.30Z" fill="#ff9e9e"/>
<path d="M441.90,552.50L443.80,556.00L440.00,556.00Z" fill="#ff9e9e"/>
<path d="M451.80,554.00L453.70,557.50L449.90,557.50Z" fill="#ff9e9e"/>
<path d="M456.80,552.50L458.70,556.00L454.90,556.00Z" fill="#ff9e9e"/>
<path d="M451.80,559.70L453.70,563.20L449.90,563.20Z" fill="#ff9e9e"/>
<path d="M456.80,559.70L458.70,563.20L454.90,563.20Z" fill="#ff9e9e"/>
<path d="M446.80,566.70L448.70,570.20L444.90,570.20Z" fill="#ff9e9e"/>
<path d="M451.80,566.70L453.70,570.20L449.90,570.20Z" fill="#ff9e9e"/>
<path d="M446.80,576.20L448.70,579.70L444.90,579.70Z" fill="#ff9e9e"/>
<path d="M446.80,585.10L448.70,588.60L444.90,588.60Z" fill="#ff9e9e"/>
<path d="M446.80,612.20L448.70,615.70L444.90,615.70Z" fill="#ff9e9e"/>
<line x1="449.50" y1="550.70" x2="449.50" y2="570.30" stroke="#1a1a1a" stroke-width="1.2"/>
<line x1="445.10" y1="550.70" x2="454.10" y2="550.70" stroke="#111" stroke-width="1.3"/>
<line x1="445.10" y1="570.30" x2="454.10" y2="570.30" stroke="#111" stroke-width="1.3"/>
<line x1="441.00" y1="559.50" x2="458.20" y2="559.50" stroke="#111" stroke-width="1.3"/>
<path d="M468.80,540.40L470.70,536.90L466.90,536.90Z" fill="#ffbb78"/>
<path d="M478.70,541.90L480.60,538.40L476.80,538.40Z" fill="#ffbb78"/>
<path d="M483.60,541.60L485.50,538.10L481.70,538.10Z" fill="#ffbb78"/>
<path d="M477.90,547.30L479.80,543.80L476.00,543.80Z" fill="#ffbb78"/>
<path d="M483.60,548.10L485.50,544.60L481.70,544.60Z" fill="#ffbb78"/>
<path d="M468.80,550.40L470.70,546.90L466.90,546.90Z" fill="#ffbb78"/>
<path d="M469.00,552.70L470.90,549.20L467.10,549.20Z" fill="#ffbb78"/>
<path d="M472.70,552.70L474.60,549.20L470.80,549.20Z" fill="#ffbb78"/>
<path d="M476.40,552.70L478.30,549.20L474.50,549.20Z" fill="#ffbb78"/>
<path d="M480.10,552.70L482.00,549.20L478.20,549.20Z" fill="#ffbb78"/>
<path d="M483.80,552.70L485.70,549.20L481.90,549.20Z" fill="#ffbb78"/>
<path d="M477.90,555.70L479.80,552.20L476.00,552.20Z" fill="#ffbb78"/>
<path d="M483.60,555.70L485.50,552.20L481.70,552.20Z" fill="#ffbb78"/>
<path d="M477.90,560.30L479.80,556.80L476.00,556.80Z" fill="#ffbb78"/>
<path d="M473.50,587.10L475.40,583.60L471.60,583.60Z" fill="#ffbb78"/>
<line x1="476.50" y1="546.50" x2="476.50" y2="582.10" stroke="#1a1a1a" stroke-width="1.2"/>
<line x1="471.90" y1="546.50" x2="480.90" y2="546.50" stroke="#111" stroke-width="1.3"/>
<line x1="471.90" y1="582.10" x2="480.90" y2="582.10" stroke="#111" stroke-width="1.3"/>
<line x1="467.80" y1="550.70" x2="485.00" y2="550.70" stroke="#111" stroke-width="1.3"/>
<circle cx="523.40" cy="532.70" r="1.75" fill="#7fb4f5"/>
<circle cx="518.50" cy="535.90" r="1.75" fill="#7fb4f5"/>
<circle cx="518.50" cy="543.10" r="1.75" fill="#7fb4f5"/>
<circle cx="523.40" cy="548.00" r="1.75" fill="#7fb4f5"/>
<circle cx="528.30" cy="554.20" r="1.75" fill="#7fb4f5"/>
<circle cx="513.90" cy="560.00" r="1.75" fill="#7fb4f5"/>
<circle cx="528.30" cy="560.70" r="1.75" fill="#7fb4f5"/>
<circle cx="518.50" cy="563.00" r="1.75" fill="#7fb4f5"/>
<circle cx="523.40" cy="563.00" r="1.75" fill="#7fb4f5"/>
<circle cx="513.90" cy="565.30" r="1.75" fill="#7fb4f5"/>
<circle cx="518.50" cy="565.30" r="1.75" fill="#7fb4f5"/>
<circle cx="513.90" cy="569.60" r="1.75" fill="#7fb4f5"/>
<circle cx="518.50" cy="570.40" r="1.75" fill="#7fb4f5"/>
<circle cx="523.40" cy="570.40" r="1.75" fill="#7fb4f5"/>
<circle cx="523.40" cy="575.00" r="1.75" fill="#7fb4f5"/>
<circle cx="518.50" cy="580.70" r="1.75" fill="#7fb4f5"/>
<circle cx="518.50" cy="595.20" r="1.75" fill="#7fb4f5"/>
<circle cx="523.40" cy="597.20" r="1.75" fill="#7fb4f5"/>
<circle cx="518.50" cy="601.80" r="1.75" fill="#7fb4f5"/>
<circle cx="518.50" cy="629.20" r="1.75" fill="#7fb4f5"/>
<circle cx="518.50" cy="635.70" r="1.75" fill="#7fb4f5"/>
<line x1="520.50" y1="555.20" x2="520.50" y2="579.80" stroke="#1a1a1a" stroke-width="1.2"/>
<line x1="516.30" y1="555.20" x2="525.30" y2="555.20" stroke="#111" stroke-width="1.3"/>
<line x1="516.30" y1="579.80" x2="525.30" y2="579.80" stroke="#111" stroke-width="1.3"/>
<line x1="512.20" y1="566.70" x2="529.40" y2="566.70" stroke="#111" stroke-width="1.3"/>
<rect x="545.95" y="553.30" width="3.3" height="3.3" fill="#98f598"/>
<rect x="553.55" y="557.00" width="3.3" height="3.3" fill="#98f598"/>
<rect x="545.95" y="559.40" width="3.3" height="3.3" fill="#98f598"/>
<rect x="553.55" y="564.00" width="3.3" height="3.3" fill="#98f598"/>
<rect x="545.95" y="564.00" width="3.3" height="3.3" fill="#98f598"/>
<rect x="538.65" y="566.60" width="3.3" height="3.3" fill="#98f598"/>
<rect x="553.55" y="569.20" width="3.3" height="3.3" fill="#98f598"/>
<rect x="538.65" y="570.40" width="3.3" height="3.3" fill="#98f598"/>
<rect x="538.65" y="574.30" width="3.3" height="3.3" fill="#98f598"/>
<rect x="553.55" y="574.30" width="3.3" height="3.3" fill="#98f598"/>
<rect x="545.95" y="574.30" width="3.3" height="3.3" fill="#98f598"/>
<rect x="545.95" y="583.80" width="3.3" height="3.3" fill="#98f598"/>
<rect x="538.65" y="595.80" width="3.3" height="3.3" fill="#98f598"/>
<rect x="553.55" y="594.60" width="3.3" height="3.3" fill="#98f598"/>
<rect x="538.65" y="600.80" width="3.3" height="3.3" fill="#98f598"/>
<rect x="545.95" y="600.80" width="3.3" height="3.3" fill="#98f598"/>
<rect x="545.95" y="612.00" width="3.3" height="3.3" fill="#98f598"/>
<rect x="545.95" y="629.70" width="3.3" height="3.3" fill="#98f598"/>
<rect x="545.95" y="654.40" width="3.3" height="3.3" fill="#98f598"/>
<line x1="547.50" y1="569.40" x2="547.50" y2="597.70" stroke="#1a1a1a" stroke-width="1.2"/>
<line x1="543.10" y1="569.40" x2="552.10" y2="569.40" stroke="#111" stroke-width="1.3"/>
<line x1="543.10" y1="597.70" x2="552.10" y2="597.70" stroke="#111" stroke-width="1.3"/>
<line x1="539.00" y1="580.00" x2="556.20" y2="580.00" stroke="#111" stroke-width="1.3"/>
<path d="M572.90,542.50L574.80,546.00L571.00,546.00Z" fill="#ff9e9e"/>
<path d="M575.90,542.50L577.80,546.00L574.00,546.00Z" fill="#ff9e9e"/>
<path d="M568.40,551.30L570.30,554.80L566.50,554.80Z" fill="#ff9e9e"/>
<path d="M571.40,551.30L573.30,554.80L569.50,554.80Z" fill="#ff9e9e"/>
<path d="M574.40,551.30L576.30,554.80L572.50,554.80Z" fill="#ff9e9e"/>
<path d="M577.40,551.30L579.30,554.80L575.50,554.80Z" fill="#ff9e9e"/>
<path d="M580.40,551.30L582.30,554.80L578.50,554.80Z" fill="#ff9e9e"/>
<path d="M574.40,560.80L576.30,564.30L572.50,564.30Z" fill="#ff9e9e"/>
<path d="M574.40,567.70L576.30,571.20L572.50,571.20Z" fill="#ff9e9e"/>
<path d="M574.40,571.30L576.30,574.80L572.50,574.80Z" fill="#ff9e9e"/>
<path d="M571.90,577.20L573.80,580.70L570.00,580.70Z" fill="#ff9e9e"/>
<path d="M576.90,576.70L578.80,580.20L575.00,580.20Z" fill="#ff9e9e"/>
<line x1="574.50" y1="552.10" x2="574.50" y2="568.20" stroke="#1a1a1a" stroke-width="1.2"/>
<line x1="569.90" y1="552.10" x2="578.90" y2="552.10" stroke="#111" stroke-width="1.3"/>
<line x1="569.90" y1="568.20" x2="578.90" y2="568.20" stroke="#111" stroke-width="1.3"/>
<line x1="565.80" y1="553.30" x2="583.00" y2="553.30" stroke="#111" stroke-width="1.3"/>
<path d="M601.20,537.30L603.10,533.80L599.30,533.80Z" fill="#ffbb78"/>
<path d="M601.20,545.70L603.10,542.20L599.30,542.20Z" fill="#ffbb78"/>
<path d="M608.40,544.20L610.30,540.70L606.50,540.70Z" fill="#ffbb78"/>
<path d="M593.90,564.80L595.80,561.30L592.00,561.30Z" fill="#ffbb78"/>
<path d="M601.20,563.30L603.10,559.80L599.30,559.80Z" fill="#ffbb78"/>
<path d="M608.40,563.30L610.30,559.80L606.50,559.80Z" fill="#ffbb78"/>
<path d="M601.20,572.20L603.10,568.70L599.30,568.70Z" fill="#ffbb78"/>
<path d="M608.40,572.20L610.30,568.70L606.50,568.70Z" fill="#ffbb78"/>
<path d="M593.90,577.20L595.80,573.70L592.00,573.70Z" fill="#ffbb78"/>
<path d="M601.20,578.60L603.10,575.10L599.30,575.10Z" fill="#ffbb78"/>
<path d="M601.20,600.20L603.10,596.70L599.30,596.70Z" fill="#ffbb78"/>
<path d="M601.20,649.40L603.10,645.90L599.30,645.90Z" fill="#ffbb78"/>
<line x1="601.50" y1="558.40" x2="601.50" y2="588.50" stroke="#1a1a1a" stroke-width="1.2"/>
<line x1="596.70" y1="558.40" x2="605.70" y2="558.40" stroke="#111" stroke-width="1.3"/>
<line x1="596.70" y1="588.50" x2="605.70" y2="588.50" stroke="#111" stroke-width="1.3"/>
<line x1="592.60" y1="570.20" x2="609.80" y2="570.20" stroke="#111" stroke-width="1.3"/>
<path d="M519.30,514.80V507.40H550.10V514.80" fill="none" stroke="#222" stroke-width="1.1"/>
<polygon points="534.50,497.50 535.16,499.09 536.88,499.23 535.57,500.35 535.97,502.02 534.50,501.12 533.03,502.02 533.43,500.35 532.12,499.23 533.84,499.09" fill="#111"/>
<text x="73.70" y="124.70" font-size="8.8">30</text>
<text x="100.50" y="134.60" font-size="8.8">20</text>
<text x="126.80" y="150.60" font-size="8.8">10</text>
<text x="154.00" y="150.60" font-size="8.8">10</text>
<text x="200.80" y="105.80" font-size="8.8">65</text>
<text x="227.10" y="107.60" font-size="8.8">60</text>
<text x="253.40" y="113.10" font-size="8.8">45</text>
<text x="280.00" y="123.90" font-size="8.8">30</text>
<text x="397.40" y="81.60" font-size="8.4">4,100</text>
<text x="424.40" y="81.60" font-size="8.4">3,800</text>
<text x="451.50" y="71.90" font-size="8.4">7,300</text>
<text x="478.90" y="70.70" font-size="8.4">8,600</text>
<text x="522.60" y="71.60" font-size="8.4">8,300</text>
<text x="551.30" y="75.30" font-size="8.4">6,800</text>
<text x="573.30" y="69.40" font-size="8.4">10,000</text>
<text x="605.70" y="67.50" font-size="8.4">9,400</text>
<text x="73.90" y="431.10" font-size="8.7">0</text>
<text x="101.90" y="406.80" font-size="8.7">5</text>
<text x="127.70" y="431.10" font-size="8.7">0</text>
<text x="153.60" y="406.80" font-size="8.7">5</text>
<text x="199.70" y="379.70" font-size="8.7">15</text>
<text x="226.20" y="352.00" font-size="8.7">45</text>
<text x="252.10" y="390.00" font-size="8.7">10</text>
<text x="280.30" y="406.30" font-size="8.7">5</text>
<text x="398.50" y="412.00" font-size="8.7">4</text>
<text x="425.70" y="412.00" font-size="8.7">4</text>
<text x="450.90" y="427.70" font-size="8.7">2</text>
<text x="479.30" y="427.70" font-size="8.7">2</text>
<text x="523.60" y="427.70" font-size="8.7">2</text>
<text x="549.20" y="383.20" font-size="8.7">14</text>
<text x="576.50" y="427.70" font-size="8.7">2</text>
<text x="604.40" y="395.50" font-size="8.7">8</text>
<text x="74.40" y="615.30" font-size="8.7">20</text>
<text x="100.50" y="615.30" font-size="8.7">20</text>
<text x="126.80" y="631.60" font-size="8.7">10</text>
<text x="155.50" y="647.30" font-size="8.7">5</text>
<text x="198.30" y="631.80" font-size="8.7">10</text>
<text x="224.70" y="610.20" font-size="8.7">25</text>
<text x="253.50" y="636.80" font-size="8.7">8</text>
<text x="279.80" y="647.90" font-size="8.7">5</text>
<text x="398.10" y="579.00" font-size="8.7">225</text>
<text x="425.70" y="588.50" font-size="8.7">113</text>
<text x="452.20" y="567.80" font-size="8.7">428</text>
<text x="478.50" y="560.60" font-size="8.7">801</text>
<text x="524.70" y="576.60" font-size="8.7">252</text>
<text x="551.80" y="590.00" font-size="8.7">98</text>
<text x="578.00" y="563.60" font-size="8.7">651</text>
<text x="604.60" y="579.00" font-size="8.7">201</text>
</svg></body></html>
